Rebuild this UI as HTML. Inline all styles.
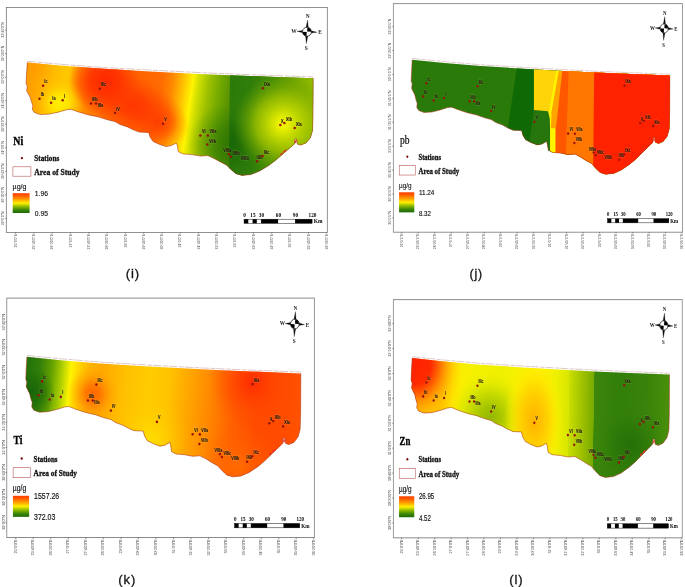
<!DOCTYPE html>
<html><head><meta charset="utf-8"><title>Heavy metals spatial distribution</title>
<style>html,body{margin:0;padding:0;background:#fff;}body{width:685px;height:587px;overflow:hidden;font-family:"Liberation Sans",sans-serif;}svg{display:block;will-change:transform;}</style>
</head><body>
<svg width="685" height="587" viewBox="0 0 685 587">
<defs>
<clipPath id="land"><polygon points="27.30,62.60 60.00,65.50 100.00,68.60 150.00,71.40 200.00,73.90 230.00,75.20 270.00,76.70 313.20,78.20 313.00,115.00 312.50,130.80 310.40,137.80 306.00,143.00 300.70,145.10 297.30,144.00 296.60,139.00 295.00,139.00 294.30,144.10 289.40,148.30 282.30,154.40 275.30,160.60 268.30,165.80 259.60,171.10 250.80,174.60 242.00,175.40 235.90,173.70 230.70,169.30 226.30,164.90 221.00,162.30 214.00,158.40 207.90,155.60 200.50,156.10 191.80,154.60 183.00,153.90 178.30,151.70 177.40,145.90 176.40,143.00 171.30,145.60 166.20,146.60 159.60,144.40 153.10,141.50 150.10,137.10 148.70,132.40 139.20,132.00 133.40,129.80 127.50,126.90 120.20,124.50 115.00,121.60 107.60,119.80 98.80,117.00 88.60,114.90 78.40,111.90 71.10,109.30 66.70,109.70 58.00,112.20 49.20,114.10 40.40,114.60 34.60,112.70 32.40,109.70 32.80,105.40 31.40,101.70 30.20,97.30 26.60,90.80 27.30,86.40 26.10,83.50 26.60,74.00"/></clipPath>
<linearGradient id="ramp" x1="0" y1="0" x2="0" y2="1"><stop offset="0" stop-color="#ff3c00"/><stop offset="0.12" stop-color="#ff5a00"/><stop offset="0.3" stop-color="#ff9a00"/><stop offset="0.5" stop-color="#fff000"/><stop offset="0.68" stop-color="#8cb800"/><stop offset="0.85" stop-color="#3a850a"/><stop offset="1" stop-color="#1c6a08"/></linearGradient>
<linearGradient id="g1base" gradientUnits="userSpaceOnUse" x1="20.00" y1="112.00" x2="320.00" y2="154.90"><stop offset="0.0229" stop-color="#ffa000"/><stop offset="0.0817" stop-color="#ffb800"/><stop offset="0.1372" stop-color="#ffc800"/><stop offset="0.1764" stop-color="#ffa800"/><stop offset="0.2221" stop-color="#ff8000"/><stop offset="0.2940" stop-color="#ff6a00"/><stop offset="0.3757" stop-color="#ff6400"/><stop offset="0.4508" stop-color="#ff6c00"/><stop offset="0.4834" stop-color="#ff8800"/><stop offset="0.5194" stop-color="#ffc000"/><stop offset="0.5504" stop-color="#fff400"/><stop offset="0.5684" stop-color="#d4e000"/><stop offset="0.6043" stop-color="#9cc000"/><stop offset="0.6468" stop-color="#6ea600"/><stop offset="0.6843" stop-color="#548f00"/><stop offset="0.7186" stop-color="#4a8800"/></linearGradient>
<radialGradient id="g1band" gradientUnits="userSpaceOnUse" cx="0.00" cy="0.00" r="1.00" gradientTransform="translate(130 103) rotate(30) scale(66 32)"><stop offset="0.0000" stop-color="#ff3600" stop-opacity="1"/><stop offset="0.3500" stop-color="#ff3e00" stop-opacity="0.95"/><stop offset="0.7000" stop-color="#ff5000" stop-opacity="0.6"/><stop offset="1.0000" stop-color="#ff6a00" stop-opacity="0"/></radialGradient>
<linearGradient id="g1right" gradientUnits="userSpaceOnUse" x1="229.50" y1="0.00" x2="313.50" y2="0.00"><stop offset="0.0000" stop-color="#2c7a0a"/><stop offset="0.2500" stop-color="#2f7d0a"/><stop offset="0.5500" stop-color="#4c9006"/><stop offset="0.8500" stop-color="#82b000"/><stop offset="1.0000" stop-color="#92bc00"/></linearGradient>
<radialGradient id="g1y" gradientUnits="userSpaceOnUse" cx="60.00" cy="103.00" r="24.00"><stop offset="0.0000" stop-color="#fff000" stop-opacity="1"/><stop offset="0.3500" stop-color="#ffe800" stop-opacity="0.9"/><stop offset="1.0000" stop-color="#ffc800" stop-opacity="0"/></radialGradient>
<radialGradient id="g1r" gradientUnits="userSpaceOnUse" cx="105.00" cy="80.00" r="36.00"><stop offset="0.0000" stop-color="#ff2800" stop-opacity="1"/><stop offset="0.4000" stop-color="#ff3000" stop-opacity="0.85"/><stop offset="0.7500" stop-color="#ff4000" stop-opacity="0.45"/><stop offset="1.0000" stop-color="#ff5000" stop-opacity="0"/></radialGradient>
<radialGradient id="g1r2" gradientUnits="userSpaceOnUse" cx="158.00" cy="122.00" r="20.00"><stop offset="0.0000" stop-color="#ff3c00" stop-opacity="0.9"/><stop offset="1.0000" stop-color="#ff4a00" stop-opacity="0"/></radialGradient>
<radialGradient id="g1o" gradientUnits="userSpaceOnUse" cx="30.00" cy="66.00" r="26.00"><stop offset="0.0000" stop-color="#ff9a00" stop-opacity="0.9"/><stop offset="1.0000" stop-color="#ffa800" stop-opacity="0"/></radialGradient>
<radialGradient id="g1d" gradientUnits="userSpaceOnUse" cx="228.00" cy="143.00" r="40.00"><stop offset="0.0000" stop-color="#176506" stop-opacity="1"/><stop offset="0.4000" stop-color="#1f6c08" stop-opacity="0.8"/><stop offset="1.0000" stop-color="#2f7d0a" stop-opacity="0"/></radialGradient>
<radialGradient id="g1x" gradientUnits="userSpaceOnUse" cx="283.00" cy="124.00" r="50.00"><stop offset="0.0000" stop-color="#f8f800" stop-opacity="1"/><stop offset="0.1000" stop-color="#eaf000" stop-opacity="1"/><stop offset="0.3000" stop-color="#c4da00" stop-opacity="0.95"/><stop offset="0.5500" stop-color="#a0c200" stop-opacity="0.8"/><stop offset="0.8000" stop-color="#78aa00" stop-opacity="0.4"/><stop offset="1.0000" stop-color="#5a9800" stop-opacity="0"/></radialGradient>
<linearGradient id="g3base" gradientUnits="userSpaceOnUse" x1="20.00" y1="89.07" x2="320.00" y2="119.07"><stop offset="0.0244" stop-color="#23730a"/><stop offset="0.0623" stop-color="#337f0a"/><stop offset="0.1036" stop-color="#62a000"/><stop offset="0.1381" stop-color="#a8cc00"/><stop offset="0.1708" stop-color="#fff400"/><stop offset="0.2001" stop-color="#ffd400"/><stop offset="0.2345" stop-color="#ffb400"/><stop offset="0.2759" stop-color="#ffa800"/><stop offset="0.3620" stop-color="#ffc000"/><stop offset="0.4481" stop-color="#ffcc00"/><stop offset="0.5101" stop-color="#ffc400"/><stop offset="0.5790" stop-color="#ffa800"/><stop offset="0.6617" stop-color="#ff8600"/><stop offset="0.7444" stop-color="#ff6000"/><stop offset="0.8271" stop-color="#ff4a00"/><stop offset="0.9304" stop-color="#ff4c00"/><stop offset="0.9890" stop-color="#ff5400"/></linearGradient>
<radialGradient id="g3r" gradientUnits="userSpaceOnUse" cx="96.28" cy="97.53" r="27.00"><stop offset="0.0000" stop-color="#ff6400" stop-opacity="1"/><stop offset="0.3000" stop-color="#ff7400" stop-opacity="0.9"/><stop offset="0.6500" stop-color="#ff9400" stop-opacity="0.5"/><stop offset="1.0000" stop-color="#ffa800" stop-opacity="0"/></radialGradient>
<radialGradient id="g3r2" gradientUnits="userSpaceOnUse" cx="262.25" cy="86.25" r="45.00"><stop offset="0.0000" stop-color="#ff2c00" stop-opacity="1"/><stop offset="0.3000" stop-color="#ff3a00" stop-opacity="0.8"/><stop offset="1.0000" stop-color="#ff5000" stop-opacity="0"/></radialGradient>
<radialGradient id="g3y" gradientUnits="userSpaceOnUse" cx="155.78" cy="140.76" r="40.00"><stop offset="0.0000" stop-color="#ffe000" stop-opacity="0.9"/><stop offset="1.0000" stop-color="#ffc800" stop-opacity="0"/></radialGradient>
<radialGradient id="g3o" gradientUnits="userSpaceOnUse" cx="249.72" cy="164.26" r="40.00"><stop offset="0.0000" stop-color="#ff7000" stop-opacity="0.8"/><stop offset="1.0000" stop-color="#ff6000" stop-opacity="0"/></radialGradient>
<radialGradient id="g3g" gradientUnits="userSpaceOnUse" cx="30.52" cy="95.65" r="26.00"><stop offset="0.0000" stop-color="#16640a" stop-opacity="1"/><stop offset="0.5000" stop-color="#1e6c08" stop-opacity="0.7"/><stop offset="1.0000" stop-color="#2c7a0a" stop-opacity="0"/></radialGradient>
<linearGradient id="g4base" gradientUnits="userSpaceOnUse" x1="20.00" y1="102.20" x2="320.00" y2="108.20"><stop offset="0.0162" stop-color="#ff6000"/><stop offset="0.1272" stop-color="#ffa800"/><stop offset="0.1717" stop-color="#ffe000"/><stop offset="0.2087" stop-color="#f8f000"/><stop offset="0.3494" stop-color="#eef000"/><stop offset="0.4975" stop-color="#fff000"/><stop offset="0.5567" stop-color="#eef000"/><stop offset="0.6041" stop-color="#d8e600"/><stop offset="0.6056" stop-color="#cade00"/><stop offset="0.6530" stop-color="#a0c200"/><stop offset="0.6966" stop-color="#78aa00"/><stop offset="0.6981" stop-color="#3c860a"/><stop offset="0.7936" stop-color="#317e0a"/><stop offset="0.9047" stop-color="#3a840a"/><stop offset="0.9788" stop-color="#4a900a"/></linearGradient>
<radialGradient id="g4r" gradientUnits="userSpaceOnUse" cx="30.41" cy="67.23" r="60.00" gradientTransform="translate(30.41 67.23) scale(1 1.12) translate(-30.41 -67.23)"><stop offset="0.0000" stop-color="#ff2200" stop-opacity="1"/><stop offset="0.3000" stop-color="#ff2a00" stop-opacity="1"/><stop offset="0.4200" stop-color="#ff5a00" stop-opacity="0.98"/><stop offset="0.5500" stop-color="#ff9400" stop-opacity="0.92"/><stop offset="0.7000" stop-color="#ffc400" stop-opacity="0.7"/><stop offset="0.8600" stop-color="#ffe600" stop-opacity="0.35"/><stop offset="1.0000" stop-color="#fff000" stop-opacity="0"/></radialGradient>
<radialGradient id="g4o" gradientUnits="userSpaceOnUse" cx="32.63" cy="114.49" r="24.00"><stop offset="0.0000" stop-color="#ff8c00" stop-opacity="0.9"/><stop offset="0.4500" stop-color="#ffa800" stop-opacity="0.6"/><stop offset="1.0000" stop-color="#ffe000" stop-opacity="0"/></radialGradient>
<radialGradient id="g4g" gradientUnits="userSpaceOnUse" cx="113.74" cy="118.27" r="46.00" gradientTransform="translate(113.74 118.27) rotate(15) scale(1 0.95) translate(-113.74 -118.27)"><stop offset="0.0000" stop-color="#94b800" stop-opacity="1"/><stop offset="0.2200" stop-color="#a2c200" stop-opacity="0.97"/><stop offset="0.5000" stop-color="#bad400" stop-opacity="0.8"/><stop offset="0.7500" stop-color="#d4e400" stop-opacity="0.45"/><stop offset="1.0000" stop-color="#f0f000" stop-opacity="0"/></radialGradient>
<radialGradient id="g4v" gradientUnits="userSpaceOnUse" cx="162.63" cy="121.11" r="33.00" gradientTransform="translate(162.63 121.11) scale(1 1.75) translate(-162.63 -121.11)"><stop offset="0.0000" stop-color="#ffb400" stop-opacity="1"/><stop offset="0.2200" stop-color="#ffc000" stop-opacity="1"/><stop offset="0.5000" stop-color="#ffd200" stop-opacity="0.92"/><stop offset="0.7800" stop-color="#ffe800" stop-opacity="0.5"/><stop offset="1.0000" stop-color="#fff000" stop-opacity="0"/></radialGradient>
<radialGradient id="g4d" gradientUnits="userSpaceOnUse" cx="269.30" cy="144.73" r="40.00"><stop offset="0.0000" stop-color="#256f08" stop-opacity="1"/><stop offset="0.4000" stop-color="#2b7608" stop-opacity="0.8"/><stop offset="1.0000" stop-color="#3a840a" stop-opacity="0"/></radialGradient>
</defs>
<g transform="matrix(1.0000 0 0 1.0000 0.000 0.000)"><g clip-path="url(#land)"><rect x="20" y="55" width="300" height="130" fill="url(#g1base)"/><rect x="20" y="55" width="209.3" height="130" fill="url(#g1o)"/><rect x="20" y="55" width="209.3" height="130" fill="url(#g1band)"/><rect x="20" y="55" width="209.3" height="130" fill="url(#g1y)"/><rect x="20" y="55" width="209.3" height="130" fill="url(#g1r)"/><rect x="20" y="55" width="209.3" height="130" fill="url(#g1r2)"/><rect x="180" y="55" width="60" height="130" fill="url(#g1d)" opacity="0.55"/><polygon points="230.2,55 320,55 320,185 228.8,185" fill="url(#g1right)"/><polygon points="230.2,55 320,55 320,185 228.8,185" fill="url(#g1d)"/><rect x="225" y="55" width="95" height="130" fill="url(#g1x)"/></g><polyline points="313.20,78.20 313.00,115.00 312.50,130.80 310.40,137.80 306.00,143.00 300.70,145.10 297.30,144.00 296.60,139.00 295.00,139.00 294.30,144.10 289.40,148.30 282.30,154.40 275.30,160.60 268.30,165.80 259.60,171.10 250.80,174.60 242.00,175.40 235.90,173.70 230.70,169.30 226.30,164.90 221.00,162.30 214.00,158.40 207.90,155.60 200.50,156.10 191.80,154.60 183.00,153.90 178.30,151.70 177.40,145.90 176.40,143.00 171.30,145.60 166.20,146.60 159.60,144.40 153.10,141.50 150.10,137.10 148.70,132.40 139.20,132.00 133.40,129.80 127.50,126.90 120.20,124.50 115.00,121.60 107.60,119.80 98.80,117.00 88.60,114.90 78.40,111.90 71.10,109.30 66.70,109.70 58.00,112.20 49.20,114.10 40.40,114.60 34.60,112.70 32.40,109.70 32.80,105.40 31.40,101.70 30.20,97.30 26.60,90.80 27.30,86.40 26.10,83.50 26.60,74.00 27.30,62.60" fill="none" stroke="#a8321c" stroke-width="0.55" stroke-linejoin="round"/><polyline points="27.30,61.30 60.00,64.20 100.00,67.30 150.00,70.10 200.00,72.60 230.00,73.90 270.00,75.40 313.20,76.90" fill="none" stroke="#bf8f8f" stroke-width="0.5" stroke-dasharray="9 1.5 5 1"/><path d="M284.0,151.8 l1.8,-1.6 M281.0,154.4 l1.2,-1.1 M295.6,142.4 l0.4,-1.6" stroke="#e82c2c" stroke-width="1.45" fill="none" stroke-linecap="round"/><rect x="6.30" y="7.40" width="321.00" height="225.10" fill="none" stroke="#6e6e6e" stroke-width="0.75"/><line x1="5.00" y1="30.00" x2="6.50" y2="30.00" stroke="#444" stroke-width="0.5"/><text transform="translate(3.90 30.00) rotate(-90) scale(0.3500)" font-family="Liberation Sans" font-size="10" font-weight="normal" text-anchor="middle" fill="#404040">32°40'0"N</text><line x1="5.00" y1="53.55" x2="6.50" y2="53.55" stroke="#444" stroke-width="0.5"/><text transform="translate(3.90 53.55) rotate(-90) scale(0.3500)" font-family="Liberation Sans" font-size="10" font-weight="normal" text-anchor="middle" fill="#404040">32°20'0"N</text><line x1="5.00" y1="77.10" x2="6.50" y2="77.10" stroke="#444" stroke-width="0.5"/><text transform="translate(3.90 77.10) rotate(-90) scale(0.3500)" font-family="Liberation Sans" font-size="10" font-weight="normal" text-anchor="middle" fill="#404040">32°0'0"N</text><line x1="5.00" y1="100.65" x2="6.50" y2="100.65" stroke="#444" stroke-width="0.5"/><text transform="translate(3.90 100.65) rotate(-90) scale(0.3500)" font-family="Liberation Sans" font-size="10" font-weight="normal" text-anchor="middle" fill="#404040">31°40'0"N</text><line x1="5.00" y1="124.20" x2="6.50" y2="124.20" stroke="#444" stroke-width="0.5"/><text transform="translate(3.90 124.20) rotate(-90) scale(0.3500)" font-family="Liberation Sans" font-size="10" font-weight="normal" text-anchor="middle" fill="#404040">31°20'0"N</text><line x1="5.00" y1="147.75" x2="6.50" y2="147.75" stroke="#444" stroke-width="0.5"/><text transform="translate(3.90 147.75) rotate(-90) scale(0.3500)" font-family="Liberation Sans" font-size="10" font-weight="normal" text-anchor="middle" fill="#404040">31°0'0"N</text><line x1="5.00" y1="171.30" x2="6.50" y2="171.30" stroke="#444" stroke-width="0.5"/><text transform="translate(3.90 171.30) rotate(-90) scale(0.3500)" font-family="Liberation Sans" font-size="10" font-weight="normal" text-anchor="middle" fill="#404040">30°40'0"N</text><line x1="5.00" y1="194.85" x2="6.50" y2="194.85" stroke="#444" stroke-width="0.5"/><text transform="translate(3.90 194.85) rotate(-90) scale(0.3500)" font-family="Liberation Sans" font-size="10" font-weight="normal" text-anchor="middle" fill="#404040">30°20'0"N</text><line x1="5.00" y1="218.40" x2="6.50" y2="218.40" stroke="#444" stroke-width="0.5"/><text transform="translate(3.90 218.40) rotate(-90) scale(0.3500)" font-family="Liberation Sans" font-size="10" font-weight="normal" text-anchor="middle" fill="#404040">30°0'0"N</text><line x1="15.60" y1="232.30" x2="15.60" y2="233.80" stroke="#444" stroke-width="0.5"/><text transform="translate(16.70 234.00) rotate(-90) scale(0.3500)" font-family="Liberation Sans" font-size="10" font-weight="normal" text-anchor="end" fill="#404040">25°0'0"E</text><line x1="33.90" y1="232.30" x2="33.90" y2="233.80" stroke="#444" stroke-width="0.5"/><text transform="translate(35.00 234.00) rotate(-90) scale(0.3500)" font-family="Liberation Sans" font-size="10" font-weight="normal" text-anchor="end" fill="#404040">25°40'0"E</text><line x1="52.20" y1="232.30" x2="52.20" y2="233.80" stroke="#444" stroke-width="0.5"/><text transform="translate(53.30 234.00) rotate(-90) scale(0.3500)" font-family="Liberation Sans" font-size="10" font-weight="normal" text-anchor="end" fill="#404040">26°20'0"E</text><line x1="70.50" y1="232.30" x2="70.50" y2="233.80" stroke="#444" stroke-width="0.5"/><text transform="translate(71.60 234.00) rotate(-90) scale(0.3500)" font-family="Liberation Sans" font-size="10" font-weight="normal" text-anchor="end" fill="#404040">27°0'0"E</text><line x1="88.80" y1="232.30" x2="88.80" y2="233.80" stroke="#444" stroke-width="0.5"/><text transform="translate(89.90 234.00) rotate(-90) scale(0.3500)" font-family="Liberation Sans" font-size="10" font-weight="normal" text-anchor="end" fill="#404040">27°40'0"E</text><line x1="107.10" y1="232.30" x2="107.10" y2="233.80" stroke="#444" stroke-width="0.5"/><text transform="translate(108.20 234.00) rotate(-90) scale(0.3500)" font-family="Liberation Sans" font-size="10" font-weight="normal" text-anchor="end" fill="#404040">28°20'0"E</text><line x1="125.40" y1="232.30" x2="125.40" y2="233.80" stroke="#444" stroke-width="0.5"/><text transform="translate(126.50 234.00) rotate(-90) scale(0.3500)" font-family="Liberation Sans" font-size="10" font-weight="normal" text-anchor="end" fill="#404040">29°0'0"E</text><line x1="143.70" y1="232.30" x2="143.70" y2="233.80" stroke="#444" stroke-width="0.5"/><text transform="translate(144.80 234.00) rotate(-90) scale(0.3500)" font-family="Liberation Sans" font-size="10" font-weight="normal" text-anchor="end" fill="#404040">29°40'0"E</text><line x1="162.00" y1="232.30" x2="162.00" y2="233.80" stroke="#444" stroke-width="0.5"/><text transform="translate(163.10 234.00) rotate(-90) scale(0.3500)" font-family="Liberation Sans" font-size="10" font-weight="normal" text-anchor="end" fill="#404040">30°20'0"E</text><line x1="180.30" y1="232.30" x2="180.30" y2="233.80" stroke="#444" stroke-width="0.5"/><text transform="translate(181.40 234.00) rotate(-90) scale(0.3500)" font-family="Liberation Sans" font-size="10" font-weight="normal" text-anchor="end" fill="#404040">31°0'0"E</text><line x1="198.60" y1="232.30" x2="198.60" y2="233.80" stroke="#444" stroke-width="0.5"/><text transform="translate(199.70 234.00) rotate(-90) scale(0.3500)" font-family="Liberation Sans" font-size="10" font-weight="normal" text-anchor="end" fill="#404040">31°40'0"E</text><line x1="216.90" y1="232.30" x2="216.90" y2="233.80" stroke="#444" stroke-width="0.5"/><text transform="translate(218.00 234.00) rotate(-90) scale(0.3500)" font-family="Liberation Sans" font-size="10" font-weight="normal" text-anchor="end" fill="#404040">32°20'0"E</text><line x1="235.20" y1="232.30" x2="235.20" y2="233.80" stroke="#444" stroke-width="0.5"/><text transform="translate(236.30 234.00) rotate(-90) scale(0.3500)" font-family="Liberation Sans" font-size="10" font-weight="normal" text-anchor="end" fill="#404040">33°0'0"E</text><line x1="253.50" y1="232.30" x2="253.50" y2="233.80" stroke="#444" stroke-width="0.5"/><text transform="translate(254.60 234.00) rotate(-90) scale(0.3500)" font-family="Liberation Sans" font-size="10" font-weight="normal" text-anchor="end" fill="#404040">33°40'0"E</text><line x1="271.80" y1="232.30" x2="271.80" y2="233.80" stroke="#444" stroke-width="0.5"/><text transform="translate(272.90 234.00) rotate(-90) scale(0.3500)" font-family="Liberation Sans" font-size="10" font-weight="normal" text-anchor="end" fill="#404040">34°20'0"E</text><line x1="290.10" y1="232.30" x2="290.10" y2="233.80" stroke="#444" stroke-width="0.5"/><text transform="translate(291.20 234.00) rotate(-90) scale(0.3500)" font-family="Liberation Sans" font-size="10" font-weight="normal" text-anchor="end" fill="#404040">35°0'0"E</text><line x1="308.40" y1="232.30" x2="308.40" y2="233.80" stroke="#444" stroke-width="0.5"/><text transform="translate(309.50 234.00) rotate(-90) scale(0.3500)" font-family="Liberation Sans" font-size="10" font-weight="normal" text-anchor="end" fill="#404040">35°40'0"E</text><line x1="326.70" y1="232.30" x2="326.70" y2="233.80" stroke="#444" stroke-width="0.5"/><text transform="translate(327.80 234.00) rotate(-90) scale(0.3500)" font-family="Liberation Sans" font-size="10" font-weight="normal" text-anchor="end" fill="#404040">36°20'0"E</text><circle cx="43.10" cy="85.70" r="1.25" fill="#961410"/><text transform="translate(44.30 83.30) scale(0.4500)" font-family="Liberation Sans" font-size="10" font-weight="bold" text-anchor="start" fill="none" stroke="#fff6a0" stroke-opacity="0.16" stroke-width="2.2" stroke-linejoin="round" textLength="7.2" lengthAdjust="spacingAndGlyphs">Ic</text><text transform="translate(44.30 83.30) scale(0.4500)" font-family="Liberation Sans" font-size="10" font-weight="bold" text-anchor="start" fill="#1c140c" stroke="#1c140c" stroke-width="0.2" textLength="7.2" lengthAdjust="spacingAndGlyphs">Ic</text><circle cx="39.50" cy="98.80" r="1.25" fill="#961410"/><text transform="translate(40.70 96.40) scale(0.4500)" font-family="Liberation Sans" font-size="10" font-weight="bold" text-anchor="start" fill="none" stroke="#fff6a0" stroke-opacity="0.16" stroke-width="2.2" stroke-linejoin="round" textLength="7.6" lengthAdjust="spacingAndGlyphs">Ib</text><text transform="translate(40.70 96.40) scale(0.4500)" font-family="Liberation Sans" font-size="10" font-weight="bold" text-anchor="start" fill="#1c140c" stroke="#1c140c" stroke-width="0.2" textLength="7.6" lengthAdjust="spacingAndGlyphs">Ib</text><circle cx="51.10" cy="102.70" r="1.25" fill="#961410"/><text transform="translate(52.30 100.30) scale(0.4500)" font-family="Liberation Sans" font-size="10" font-weight="bold" text-anchor="start" fill="none" stroke="#fff6a0" stroke-opacity="0.16" stroke-width="2.2" stroke-linejoin="round" textLength="7.2" lengthAdjust="spacingAndGlyphs">Ia</text><text transform="translate(52.30 100.30) scale(0.4500)" font-family="Liberation Sans" font-size="10" font-weight="bold" text-anchor="start" fill="#1c140c" stroke="#1c140c" stroke-width="0.2" textLength="7.2" lengthAdjust="spacingAndGlyphs">Ia</text><circle cx="62.70" cy="100.30" r="1.25" fill="#961410"/><text transform="translate(64.10 97.90) scale(0.4500)" font-family="Liberation Sans" font-size="10" font-weight="bold" text-anchor="start" fill="none" stroke="#fff6a0" stroke-opacity="0.16" stroke-width="2.2" stroke-linejoin="round" textLength="2.4" lengthAdjust="spacingAndGlyphs">I</text><text transform="translate(64.10 97.90) scale(0.4500)" font-family="Liberation Sans" font-size="10" font-weight="bold" text-anchor="start" fill="#1c140c" stroke="#1c140c" stroke-width="0.2" textLength="2.4" lengthAdjust="spacingAndGlyphs">I</text><circle cx="99.80" cy="88.70" r="1.25" fill="#961410"/><text transform="translate(101.00 86.30) scale(0.4500)" font-family="Liberation Sans" font-size="10" font-weight="bold" text-anchor="start" fill="none" stroke="#fff6a0" stroke-opacity="0.16" stroke-width="2.2" stroke-linejoin="round" textLength="12.0" lengthAdjust="spacingAndGlyphs">IIIc</text><text transform="translate(101.00 86.30) scale(0.4500)" font-family="Liberation Sans" font-size="10" font-weight="bold" text-anchor="start" fill="#1c140c" stroke="#1c140c" stroke-width="0.2" textLength="12.0" lengthAdjust="spacingAndGlyphs">IIIc</text><circle cx="91.00" cy="103.60" r="1.25" fill="#961410"/><text transform="translate(92.00 101.00) scale(0.4500)" font-family="Liberation Sans" font-size="10" font-weight="bold" text-anchor="start" fill="none" stroke="#fff6a0" stroke-opacity="0.16" stroke-width="2.2" stroke-linejoin="round" textLength="12.4" lengthAdjust="spacingAndGlyphs">IIIb</text><text transform="translate(92.00 101.00) scale(0.4500)" font-family="Liberation Sans" font-size="10" font-weight="bold" text-anchor="start" fill="#1c140c" stroke="#1c140c" stroke-width="0.2" textLength="12.4" lengthAdjust="spacingAndGlyphs">IIIb</text><circle cx="96.10" cy="103.60" r="1.25" fill="#961410"/><text transform="translate(97.70 107.00) scale(0.4500)" font-family="Liberation Sans" font-size="10" font-weight="bold" text-anchor="start" fill="none" stroke="#fff6a0" stroke-opacity="0.16" stroke-width="2.2" stroke-linejoin="round" textLength="12.0" lengthAdjust="spacingAndGlyphs">IIIa</text><text transform="translate(97.70 107.00) scale(0.4500)" font-family="Liberation Sans" font-size="10" font-weight="bold" text-anchor="start" fill="#1c140c" stroke="#1c140c" stroke-width="0.2" textLength="12.0" lengthAdjust="spacingAndGlyphs">IIIa</text><circle cx="115.00" cy="113.10" r="1.25" fill="#961410"/><text transform="translate(116.20 110.70) scale(0.4500)" font-family="Liberation Sans" font-size="10" font-weight="bold" text-anchor="start" fill="none" stroke="#fff6a0" stroke-opacity="0.16" stroke-width="2.2" stroke-linejoin="round" textLength="8.1" lengthAdjust="spacingAndGlyphs">IV</text><text transform="translate(116.20 110.70) scale(0.4500)" font-family="Liberation Sans" font-size="10" font-weight="bold" text-anchor="start" fill="#1c140c" stroke="#1c140c" stroke-width="0.2" textLength="8.1" lengthAdjust="spacingAndGlyphs">IV</text><circle cx="163.00" cy="123.80" r="1.25" fill="#961410"/><text transform="translate(164.20 121.40) scale(0.4500)" font-family="Liberation Sans" font-size="10" font-weight="bold" text-anchor="start" fill="none" stroke="#fff6a0" stroke-opacity="0.16" stroke-width="2.2" stroke-linejoin="round" textLength="5.7" lengthAdjust="spacingAndGlyphs">V</text><text transform="translate(164.20 121.40) scale(0.4500)" font-family="Liberation Sans" font-size="10" font-weight="bold" text-anchor="start" fill="#1c140c" stroke="#1c140c" stroke-width="0.2" textLength="5.7" lengthAdjust="spacingAndGlyphs">V</text><circle cx="200.30" cy="135.40" r="1.25" fill="#961410"/><text transform="translate(201.90 133.00) scale(0.4500)" font-family="Liberation Sans" font-size="10" font-weight="bold" text-anchor="start" fill="none" stroke="#fff6a0" stroke-opacity="0.16" stroke-width="2.2" stroke-linejoin="round" textLength="8.1" lengthAdjust="spacingAndGlyphs">VI</text><text transform="translate(201.90 133.00) scale(0.4500)" font-family="Liberation Sans" font-size="10" font-weight="bold" text-anchor="start" fill="#1c140c" stroke="#1c140c" stroke-width="0.2" textLength="8.1" lengthAdjust="spacingAndGlyphs">VI</text><circle cx="207.80" cy="135.50" r="1.25" fill="#961410"/><text transform="translate(209.40 133.10) scale(0.4500)" font-family="Liberation Sans" font-size="10" font-weight="bold" text-anchor="start" fill="none" stroke="#fff6a0" stroke-opacity="0.16" stroke-width="2.2" stroke-linejoin="round" textLength="15.3" lengthAdjust="spacingAndGlyphs">VIIa</text><text transform="translate(209.40 133.10) scale(0.4500)" font-family="Liberation Sans" font-size="10" font-weight="bold" text-anchor="start" fill="#1c140c" stroke="#1c140c" stroke-width="0.2" textLength="15.3" lengthAdjust="spacingAndGlyphs">VIIa</text><circle cx="207.30" cy="144.60" r="1.25" fill="#961410"/><text transform="translate(208.90 142.60) scale(0.4500)" font-family="Liberation Sans" font-size="10" font-weight="bold" text-anchor="start" fill="none" stroke="#fff6a0" stroke-opacity="0.16" stroke-width="2.2" stroke-linejoin="round" textLength="15.8" lengthAdjust="spacingAndGlyphs">VIIb</text><text transform="translate(208.90 142.60) scale(0.4500)" font-family="Liberation Sans" font-size="10" font-weight="bold" text-anchor="start" fill="#1c140c" stroke="#1c140c" stroke-width="0.2" textLength="15.8" lengthAdjust="spacingAndGlyphs">VIIb</text><circle cx="228.70" cy="154.00" r="1.25" fill="#961410"/><text transform="translate(223.20 152.20) scale(0.4500)" font-family="Liberation Sans" font-size="10" font-weight="bold" text-anchor="start" fill="none" stroke="#fff6a0" stroke-opacity="0.16" stroke-width="2.2" stroke-linejoin="round" textLength="17.7" lengthAdjust="spacingAndGlyphs">VIIIa</text><text transform="translate(223.20 152.20) scale(0.4500)" font-family="Liberation Sans" font-size="10" font-weight="bold" text-anchor="start" fill="#1c140c" stroke="#1c140c" stroke-width="0.2" textLength="17.7" lengthAdjust="spacingAndGlyphs">VIIIa</text><circle cx="230.80" cy="156.80" r="1.25" fill="#961410"/><text transform="translate(232.40 155.00) scale(0.4500)" font-family="Liberation Sans" font-size="10" font-weight="bold" text-anchor="start" fill="none" stroke="#fff6a0" stroke-opacity="0.16" stroke-width="2.2" stroke-linejoin="round" textLength="17.7" lengthAdjust="spacingAndGlyphs">VIIIc</text><text transform="translate(232.40 155.00) scale(0.4500)" font-family="Liberation Sans" font-size="10" font-weight="bold" text-anchor="start" fill="#1c140c" stroke="#1c140c" stroke-width="0.2" textLength="17.7" lengthAdjust="spacingAndGlyphs">VIIIc</text><text transform="translate(240.60 160.00) scale(0.4500)" font-family="Liberation Sans" font-size="10" font-weight="bold" text-anchor="start" fill="none" stroke="#fff6a0" stroke-opacity="0.16" stroke-width="2.2" stroke-linejoin="round" textLength="18.2" lengthAdjust="spacingAndGlyphs">VIIIb</text><text transform="translate(240.60 160.00) scale(0.4500)" font-family="Liberation Sans" font-size="10" font-weight="bold" text-anchor="start" fill="#1c140c" stroke="#1c140c" stroke-width="0.2" textLength="18.2" lengthAdjust="spacingAndGlyphs">VIIIb</text><circle cx="257.10" cy="161.20" r="1.25" fill="#961410"/><text transform="translate(256.60 158.80) scale(0.4500)" font-family="Liberation Sans" font-size="10" font-weight="bold" text-anchor="start" fill="none" stroke="#fff6a0" stroke-opacity="0.16" stroke-width="2.2" stroke-linejoin="round" textLength="13.4" lengthAdjust="spacingAndGlyphs">IXb</text><text transform="translate(256.60 158.80) scale(0.4500)" font-family="Liberation Sans" font-size="10" font-weight="bold" text-anchor="start" fill="#1c140c" stroke="#1c140c" stroke-width="0.2" textLength="13.4" lengthAdjust="spacingAndGlyphs">IXb</text><circle cx="262.50" cy="156.00" r="1.25" fill="#961410"/><text transform="translate(263.70 153.60) scale(0.4500)" font-family="Liberation Sans" font-size="10" font-weight="bold" text-anchor="start" fill="none" stroke="#fff6a0" stroke-opacity="0.16" stroke-width="2.2" stroke-linejoin="round" textLength="12.9" lengthAdjust="spacingAndGlyphs">IXc</text><text transform="translate(263.70 153.60) scale(0.4500)" font-family="Liberation Sans" font-size="10" font-weight="bold" text-anchor="start" fill="#1c140c" stroke="#1c140c" stroke-width="0.2" textLength="12.9" lengthAdjust="spacingAndGlyphs">IXc</text><circle cx="262.90" cy="88.30" r="1.25" fill="#961410"/><text transform="translate(264.10 85.90) scale(0.4500)" font-family="Liberation Sans" font-size="10" font-weight="bold" text-anchor="start" fill="none" stroke="#fff6a0" stroke-opacity="0.16" stroke-width="2.2" stroke-linejoin="round" textLength="12.9" lengthAdjust="spacingAndGlyphs">IXa</text><text transform="translate(264.10 85.90) scale(0.4500)" font-family="Liberation Sans" font-size="10" font-weight="bold" text-anchor="start" fill="#1c140c" stroke="#1c140c" stroke-width="0.2" textLength="12.9" lengthAdjust="spacingAndGlyphs">IXa</text><circle cx="280.30" cy="125.00" r="1.25" fill="#961410"/><text transform="translate(281.10 122.80) scale(0.4500)" font-family="Liberation Sans" font-size="10" font-weight="bold" text-anchor="start" fill="none" stroke="#fff6a0" stroke-opacity="0.16" stroke-width="2.2" stroke-linejoin="round" textLength="5.7" lengthAdjust="spacingAndGlyphs">X</text><text transform="translate(281.10 122.80) scale(0.4500)" font-family="Liberation Sans" font-size="10" font-weight="bold" text-anchor="start" fill="#1c140c" stroke="#1c140c" stroke-width="0.2" textLength="5.7" lengthAdjust="spacingAndGlyphs">X</text><circle cx="284.40" cy="122.90" r="1.25" fill="#961410"/><text transform="translate(286.00 120.90) scale(0.4500)" font-family="Liberation Sans" font-size="10" font-weight="bold" text-anchor="start" fill="none" stroke="#fff6a0" stroke-opacity="0.16" stroke-width="2.2" stroke-linejoin="round" textLength="13.4" lengthAdjust="spacingAndGlyphs">XIb</text><text transform="translate(286.00 120.90) scale(0.4500)" font-family="Liberation Sans" font-size="10" font-weight="bold" text-anchor="start" fill="#1c140c" stroke="#1c140c" stroke-width="0.2" textLength="13.4" lengthAdjust="spacingAndGlyphs">XIb</text><circle cx="294.70" cy="128.00" r="1.25" fill="#961410"/><text transform="translate(295.90 125.60) scale(0.4500)" font-family="Liberation Sans" font-size="10" font-weight="bold" text-anchor="start" fill="none" stroke="#fff6a0" stroke-opacity="0.16" stroke-width="2.2" stroke-linejoin="round" textLength="12.9" lengthAdjust="spacingAndGlyphs">XIa</text><text transform="translate(295.90 125.60) scale(0.4500)" font-family="Liberation Sans" font-size="10" font-weight="bold" text-anchor="start" fill="#1c140c" stroke="#1c140c" stroke-width="0.2" textLength="12.9" lengthAdjust="spacingAndGlyphs">XIa</text><text x="13.3" y="144.9" font-family="Liberation Serif" font-weight="bold" font-size="11.6" fill="#000" stroke="#000" stroke-width="0.35" textLength="9.9" lengthAdjust="spacingAndGlyphs">Ni</text><circle cx="21.9" cy="158.2" r="1.15" fill="#7a0a05"/><text x="34.3" y="161.2" font-family="Liberation Serif" font-weight="bold" font-size="7.6" fill="#111" stroke="#111" stroke-width="0.28" textLength="25.0" lengthAdjust="spacingAndGlyphs">Stations</text><rect x="12.9" y="166.8" width="18.0" height="9.4" fill="#fff" stroke="#b85858" stroke-width="0.6"/><text x="34.3" y="175.0" font-family="Liberation Serif" font-weight="bold" font-size="7.6" fill="#111" stroke="#111" stroke-width="0.28" textLength="45.2" lengthAdjust="spacingAndGlyphs">Area of Study</text><text x="12.6" y="189.0" font-family="Liberation Sans" font-size="8.0" fill="#111" stroke="#111" stroke-width="0.15" textLength="13.9" lengthAdjust="spacingAndGlyphs">µg/g</text><rect x="12.7" y="193.2" width="16.9" height="19.8" fill="url(#ramp)"/><text x="34.8" y="196.0" font-family="Liberation Sans" font-size="7.8" fill="#111" stroke="#111" stroke-width="0.15" textLength="13.2" lengthAdjust="spacingAndGlyphs">1.96</text><text x="34.8" y="216.2" font-family="Liberation Sans" font-size="7.8" fill="#111" stroke="#111" stroke-width="0.15" textLength="13.2" lengthAdjust="spacingAndGlyphs">0.95</text><rect x="244.05" y="219.20" width="68.05" height="4.10" fill="#fff" stroke="#000" stroke-width="0.45"/><rect x="244.05" y="219.20" width="4.25" height="4.10" fill="#000"/><rect x="252.56" y="219.20" width="4.25" height="4.10" fill="#000"/><rect x="261.06" y="219.20" width="17.01" height="4.10" fill="#000"/><rect x="295.09" y="219.20" width="17.01" height="4.10" fill="#000"/><text transform="translate(244.65 216.90) scale(0.5250)" font-family="Liberation Serif" font-size="10" font-weight="bold" text-anchor="middle" fill="#000">0</text><text transform="translate(252.96 216.90) scale(0.5250)" font-family="Liberation Serif" font-size="10" font-weight="bold" text-anchor="middle" fill="#000">15</text><text transform="translate(261.46 216.90) scale(0.5250)" font-family="Liberation Serif" font-size="10" font-weight="bold" text-anchor="middle" fill="#000">30</text><text transform="translate(278.47 216.90) scale(0.5250)" font-family="Liberation Serif" font-size="10" font-weight="bold" text-anchor="middle" fill="#000">60</text><text transform="translate(295.49 216.90) scale(0.5250)" font-family="Liberation Serif" font-size="10" font-weight="bold" text-anchor="middle" fill="#000">90</text><text transform="translate(312.50 216.90) scale(0.5250)" font-family="Liberation Serif" font-size="10" font-weight="bold" text-anchor="middle" fill="#000">120</text><text transform="translate(313.70 223.40) scale(0.5400)" font-family="Liberation Serif" font-size="10" font-weight="bold" text-anchor="start" fill="#000">Km</text><g transform="translate(306.95 31.75) rotate(3)"><path d="M0,-11.7 L1.15,-4.2 L-1.15,-4.2 Z M0,11.9 L1.15,4.2 L-1.15,4.2 Z M-10.1,0 L-4.2,-1.15 L-4.2,1.15 Z M10.1,0 L4.2,-1.15 L4.2,1.15 Z" fill="#0a0a0a" stroke="#0a0a0a" stroke-width="0.25" stroke-linejoin="round"/><circle cx="0" cy="0" r="4.5" fill="#fff" stroke="#0a0a0a" stroke-width="0.7"/><path d="M0.2,-0.2 L0.2,-4.2 A4.0,4.0 0 0 1 4.2,-0.2 Z M-0.2,0.2 L-0.2,4.2 A4.0,4.0 0 0 1 -4.2,0.2 Z" fill="#000"/></g><text transform="translate(307.60 18.30) scale(0.5400)" font-family="Liberation Serif" font-size="10" font-weight="bold" text-anchor="middle" fill="#222">N</text><text transform="translate(306.30 49.70) scale(0.5400)" font-family="Liberation Serif" font-size="10" font-weight="bold" text-anchor="middle" fill="#222">S</text><text transform="translate(293.90 33.00) scale(0.5500)" font-family="Liberation Serif" font-size="10" font-weight="bold" text-anchor="middle" fill="#222">W</text><text transform="translate(320.00 34.40) scale(0.5300)" font-family="Liberation Serif" font-size="10" font-weight="bold" text-anchor="middle" fill="#222">E</text></g>
<g transform="matrix(0.9010 0 0 1.0150 387.624 -3.811)"><g clip-path="url(#land)"><rect x="20" y="55" width="300" height="130" fill="#2a7a09"/><polygon points="144.70,62.87 132.27,136.76 132.27,190.95 346.70,190.95 346.70,62.87" fill="#0f6905"/><polygon points="162.35,111.93 178.55,113.11 181.33,120.80 181.88,159.42 154.91,159.42" fill="#27760d"/><polygon points="162.35,57.94 162.35,112.03 177.89,113.31 180.11,120.80 180.88,190.95 346.70,190.95 346.70,57.94" fill="#ffd50a"/><polygon points="189.21,57.94 187.10,73.71 179.22,113.71 180.11,120.80 180.88,190.95 346.70,190.95 346.70,57.94" fill="#fff400"/><polygon points="191.98,57.94 189.87,73.90 181.88,114.10 181.33,130.06 186.43,130.06 186.43,190.95 346.70,190.95 346.70,57.94" fill="#ffa300"/><polygon points="195.87,57.94 193.76,74.10 186.88,130.06 186.43,130.06 186.43,190.95 346.70,190.95 346.70,57.94" fill="#ff5600"/><polygon points="201.42,57.94 196.53,190.95 346.70,190.95 346.70,57.94" fill="#ff7600"/><polygon points="229.50,57.94 227.83,190.95 346.70,190.95 346.70,57.94" fill="#ff2200"/></g><polyline points="313.20,78.20 313.00,115.00 312.50,130.80 310.40,137.80 306.00,143.00 300.70,145.10 297.30,144.00 296.60,139.00 295.00,139.00 294.30,144.10 289.40,148.30 282.30,154.40 275.30,160.60 268.30,165.80 259.60,171.10 250.80,174.60 242.00,175.40 235.90,173.70 230.70,169.30 226.30,164.90 221.00,162.30 214.00,158.40 207.90,155.60 200.50,156.10 191.80,154.60 183.00,153.90 178.30,151.70 177.40,145.90 176.40,143.00 171.30,145.60 166.20,146.60 159.60,144.40 153.10,141.50 150.10,137.10 148.70,132.40 139.20,132.00 133.40,129.80 127.50,126.90 120.20,124.50 115.00,121.60 107.60,119.80 98.80,117.00 88.60,114.90 78.40,111.90 71.10,109.30 66.70,109.70 58.00,112.20 49.20,114.10 40.40,114.60 34.60,112.70 32.40,109.70 32.80,105.40 31.40,101.70 30.20,97.30 26.60,90.80 27.30,86.40 26.10,83.50 26.60,74.00 27.30,62.60" fill="none" stroke="#a8321c" stroke-width="0.55" stroke-linejoin="round"/><polyline points="27.30,61.30 60.00,64.20 100.00,67.30 150.00,70.10 200.00,72.60 230.00,73.90 270.00,75.40 313.20,76.90" fill="none" stroke="#bf8f8f" stroke-width="0.5" stroke-dasharray="9 1.5 5 1"/><path d="M284.0,151.8 l1.8,-1.6 M281.0,154.4 l1.2,-1.1 M295.6,142.4 l0.4,-1.6" stroke="#e82c2c" stroke-width="1.45" fill="none" stroke-linecap="round"/><rect x="6.30" y="7.40" width="321.00" height="225.10" fill="none" stroke="#6e6e6e" stroke-width="0.75"/><line x1="5.00" y1="30.00" x2="6.50" y2="30.00" stroke="#444" stroke-width="0.5"/><text transform="translate(3.90 30.00) rotate(-90) scale(0.3500)" font-family="Liberation Sans" font-size="10" font-weight="normal" text-anchor="middle" fill="#404040">32°40'0"N</text><line x1="5.00" y1="53.55" x2="6.50" y2="53.55" stroke="#444" stroke-width="0.5"/><text transform="translate(3.90 53.55) rotate(-90) scale(0.3500)" font-family="Liberation Sans" font-size="10" font-weight="normal" text-anchor="middle" fill="#404040">32°20'0"N</text><line x1="5.00" y1="77.10" x2="6.50" y2="77.10" stroke="#444" stroke-width="0.5"/><text transform="translate(3.90 77.10) rotate(-90) scale(0.3500)" font-family="Liberation Sans" font-size="10" font-weight="normal" text-anchor="middle" fill="#404040">32°0'0"N</text><line x1="5.00" y1="100.65" x2="6.50" y2="100.65" stroke="#444" stroke-width="0.5"/><text transform="translate(3.90 100.65) rotate(-90) scale(0.3500)" font-family="Liberation Sans" font-size="10" font-weight="normal" text-anchor="middle" fill="#404040">31°40'0"N</text><line x1="5.00" y1="124.20" x2="6.50" y2="124.20" stroke="#444" stroke-width="0.5"/><text transform="translate(3.90 124.20) rotate(-90) scale(0.3500)" font-family="Liberation Sans" font-size="10" font-weight="normal" text-anchor="middle" fill="#404040">31°20'0"N</text><line x1="5.00" y1="147.75" x2="6.50" y2="147.75" stroke="#444" stroke-width="0.5"/><text transform="translate(3.90 147.75) rotate(-90) scale(0.3500)" font-family="Liberation Sans" font-size="10" font-weight="normal" text-anchor="middle" fill="#404040">31°0'0"N</text><line x1="5.00" y1="171.30" x2="6.50" y2="171.30" stroke="#444" stroke-width="0.5"/><text transform="translate(3.90 171.30) rotate(-90) scale(0.3500)" font-family="Liberation Sans" font-size="10" font-weight="normal" text-anchor="middle" fill="#404040">30°40'0"N</text><line x1="5.00" y1="194.85" x2="6.50" y2="194.85" stroke="#444" stroke-width="0.5"/><text transform="translate(3.90 194.85) rotate(-90) scale(0.3500)" font-family="Liberation Sans" font-size="10" font-weight="normal" text-anchor="middle" fill="#404040">30°20'0"N</text><line x1="5.00" y1="218.40" x2="6.50" y2="218.40" stroke="#444" stroke-width="0.5"/><text transform="translate(3.90 218.40) rotate(-90) scale(0.3500)" font-family="Liberation Sans" font-size="10" font-weight="normal" text-anchor="middle" fill="#404040">30°0'0"N</text><line x1="15.60" y1="232.30" x2="15.60" y2="233.80" stroke="#444" stroke-width="0.5"/><text transform="translate(16.70 234.00) rotate(-90) scale(0.3500)" font-family="Liberation Sans" font-size="10" font-weight="normal" text-anchor="end" fill="#404040">25°0'0"E</text><line x1="33.90" y1="232.30" x2="33.90" y2="233.80" stroke="#444" stroke-width="0.5"/><text transform="translate(35.00 234.00) rotate(-90) scale(0.3500)" font-family="Liberation Sans" font-size="10" font-weight="normal" text-anchor="end" fill="#404040">25°40'0"E</text><line x1="52.20" y1="232.30" x2="52.20" y2="233.80" stroke="#444" stroke-width="0.5"/><text transform="translate(53.30 234.00) rotate(-90) scale(0.3500)" font-family="Liberation Sans" font-size="10" font-weight="normal" text-anchor="end" fill="#404040">26°20'0"E</text><line x1="70.50" y1="232.30" x2="70.50" y2="233.80" stroke="#444" stroke-width="0.5"/><text transform="translate(71.60 234.00) rotate(-90) scale(0.3500)" font-family="Liberation Sans" font-size="10" font-weight="normal" text-anchor="end" fill="#404040">27°0'0"E</text><line x1="88.80" y1="232.30" x2="88.80" y2="233.80" stroke="#444" stroke-width="0.5"/><text transform="translate(89.90 234.00) rotate(-90) scale(0.3500)" font-family="Liberation Sans" font-size="10" font-weight="normal" text-anchor="end" fill="#404040">27°40'0"E</text><line x1="107.10" y1="232.30" x2="107.10" y2="233.80" stroke="#444" stroke-width="0.5"/><text transform="translate(108.20 234.00) rotate(-90) scale(0.3500)" font-family="Liberation Sans" font-size="10" font-weight="normal" text-anchor="end" fill="#404040">28°20'0"E</text><line x1="125.40" y1="232.30" x2="125.40" y2="233.80" stroke="#444" stroke-width="0.5"/><text transform="translate(126.50 234.00) rotate(-90) scale(0.3500)" font-family="Liberation Sans" font-size="10" font-weight="normal" text-anchor="end" fill="#404040">29°0'0"E</text><line x1="143.70" y1="232.30" x2="143.70" y2="233.80" stroke="#444" stroke-width="0.5"/><text transform="translate(144.80 234.00) rotate(-90) scale(0.3500)" font-family="Liberation Sans" font-size="10" font-weight="normal" text-anchor="end" fill="#404040">29°40'0"E</text><line x1="162.00" y1="232.30" x2="162.00" y2="233.80" stroke="#444" stroke-width="0.5"/><text transform="translate(163.10 234.00) rotate(-90) scale(0.3500)" font-family="Liberation Sans" font-size="10" font-weight="normal" text-anchor="end" fill="#404040">30°20'0"E</text><line x1="180.30" y1="232.30" x2="180.30" y2="233.80" stroke="#444" stroke-width="0.5"/><text transform="translate(181.40 234.00) rotate(-90) scale(0.3500)" font-family="Liberation Sans" font-size="10" font-weight="normal" text-anchor="end" fill="#404040">31°0'0"E</text><line x1="198.60" y1="232.30" x2="198.60" y2="233.80" stroke="#444" stroke-width="0.5"/><text transform="translate(199.70 234.00) rotate(-90) scale(0.3500)" font-family="Liberation Sans" font-size="10" font-weight="normal" text-anchor="end" fill="#404040">31°40'0"E</text><line x1="216.90" y1="232.30" x2="216.90" y2="233.80" stroke="#444" stroke-width="0.5"/><text transform="translate(218.00 234.00) rotate(-90) scale(0.3500)" font-family="Liberation Sans" font-size="10" font-weight="normal" text-anchor="end" fill="#404040">32°20'0"E</text><line x1="235.20" y1="232.30" x2="235.20" y2="233.80" stroke="#444" stroke-width="0.5"/><text transform="translate(236.30 234.00) rotate(-90) scale(0.3500)" font-family="Liberation Sans" font-size="10" font-weight="normal" text-anchor="end" fill="#404040">33°0'0"E</text><line x1="253.50" y1="232.30" x2="253.50" y2="233.80" stroke="#444" stroke-width="0.5"/><text transform="translate(254.60 234.00) rotate(-90) scale(0.3500)" font-family="Liberation Sans" font-size="10" font-weight="normal" text-anchor="end" fill="#404040">33°40'0"E</text><line x1="271.80" y1="232.30" x2="271.80" y2="233.80" stroke="#444" stroke-width="0.5"/><text transform="translate(272.90 234.00) rotate(-90) scale(0.3500)" font-family="Liberation Sans" font-size="10" font-weight="normal" text-anchor="end" fill="#404040">34°20'0"E</text><line x1="290.10" y1="232.30" x2="290.10" y2="233.80" stroke="#444" stroke-width="0.5"/><text transform="translate(291.20 234.00) rotate(-90) scale(0.3500)" font-family="Liberation Sans" font-size="10" font-weight="normal" text-anchor="end" fill="#404040">35°0'0"E</text><line x1="308.40" y1="232.30" x2="308.40" y2="233.80" stroke="#444" stroke-width="0.5"/><text transform="translate(309.50 234.00) rotate(-90) scale(0.3500)" font-family="Liberation Sans" font-size="10" font-weight="normal" text-anchor="end" fill="#404040">35°40'0"E</text><line x1="326.70" y1="232.30" x2="326.70" y2="233.80" stroke="#444" stroke-width="0.5"/><text transform="translate(327.80 234.00) rotate(-90) scale(0.3500)" font-family="Liberation Sans" font-size="10" font-weight="normal" text-anchor="end" fill="#404040">36°20'0"E</text><circle cx="43.10" cy="85.70" r="1.25" fill="#961410"/><text transform="translate(44.30 83.30) scale(0.4500)" font-family="Liberation Sans" font-size="10" font-weight="bold" text-anchor="start" fill="none" stroke="#fff6a0" stroke-opacity="0.16" stroke-width="2.2" stroke-linejoin="round" textLength="7.2" lengthAdjust="spacingAndGlyphs">Ic</text><text transform="translate(44.30 83.30) scale(0.4500)" font-family="Liberation Sans" font-size="10" font-weight="bold" text-anchor="start" fill="#1c140c" stroke="#1c140c" stroke-width="0.2" textLength="7.2" lengthAdjust="spacingAndGlyphs">Ic</text><circle cx="39.50" cy="98.80" r="1.25" fill="#961410"/><text transform="translate(40.70 96.40) scale(0.4500)" font-family="Liberation Sans" font-size="10" font-weight="bold" text-anchor="start" fill="none" stroke="#fff6a0" stroke-opacity="0.16" stroke-width="2.2" stroke-linejoin="round" textLength="7.6" lengthAdjust="spacingAndGlyphs">Ib</text><text transform="translate(40.70 96.40) scale(0.4500)" font-family="Liberation Sans" font-size="10" font-weight="bold" text-anchor="start" fill="#1c140c" stroke="#1c140c" stroke-width="0.2" textLength="7.6" lengthAdjust="spacingAndGlyphs">Ib</text><circle cx="51.10" cy="102.70" r="1.25" fill="#961410"/><text transform="translate(52.30 100.30) scale(0.4500)" font-family="Liberation Sans" font-size="10" font-weight="bold" text-anchor="start" fill="none" stroke="#fff6a0" stroke-opacity="0.16" stroke-width="2.2" stroke-linejoin="round" textLength="7.2" lengthAdjust="spacingAndGlyphs">Ia</text><text transform="translate(52.30 100.30) scale(0.4500)" font-family="Liberation Sans" font-size="10" font-weight="bold" text-anchor="start" fill="#1c140c" stroke="#1c140c" stroke-width="0.2" textLength="7.2" lengthAdjust="spacingAndGlyphs">Ia</text><circle cx="62.70" cy="100.30" r="1.25" fill="#961410"/><text transform="translate(64.10 97.90) scale(0.4500)" font-family="Liberation Sans" font-size="10" font-weight="bold" text-anchor="start" fill="none" stroke="#fff6a0" stroke-opacity="0.16" stroke-width="2.2" stroke-linejoin="round" textLength="2.4" lengthAdjust="spacingAndGlyphs">I</text><text transform="translate(64.10 97.90) scale(0.4500)" font-family="Liberation Sans" font-size="10" font-weight="bold" text-anchor="start" fill="#1c140c" stroke="#1c140c" stroke-width="0.2" textLength="2.4" lengthAdjust="spacingAndGlyphs">I</text><circle cx="99.80" cy="88.70" r="1.25" fill="#961410"/><text transform="translate(101.00 86.30) scale(0.4500)" font-family="Liberation Sans" font-size="10" font-weight="bold" text-anchor="start" fill="none" stroke="#fff6a0" stroke-opacity="0.16" stroke-width="2.2" stroke-linejoin="round" textLength="12.0" lengthAdjust="spacingAndGlyphs">IIIc</text><text transform="translate(101.00 86.30) scale(0.4500)" font-family="Liberation Sans" font-size="10" font-weight="bold" text-anchor="start" fill="#1c140c" stroke="#1c140c" stroke-width="0.2" textLength="12.0" lengthAdjust="spacingAndGlyphs">IIIc</text><circle cx="91.00" cy="103.60" r="1.25" fill="#961410"/><text transform="translate(92.00 101.00) scale(0.4500)" font-family="Liberation Sans" font-size="10" font-weight="bold" text-anchor="start" fill="none" stroke="#fff6a0" stroke-opacity="0.16" stroke-width="2.2" stroke-linejoin="round" textLength="12.4" lengthAdjust="spacingAndGlyphs">IIIb</text><text transform="translate(92.00 101.00) scale(0.4500)" font-family="Liberation Sans" font-size="10" font-weight="bold" text-anchor="start" fill="#1c140c" stroke="#1c140c" stroke-width="0.2" textLength="12.4" lengthAdjust="spacingAndGlyphs">IIIb</text><circle cx="96.10" cy="103.60" r="1.25" fill="#961410"/><text transform="translate(97.70 107.00) scale(0.4500)" font-family="Liberation Sans" font-size="10" font-weight="bold" text-anchor="start" fill="none" stroke="#fff6a0" stroke-opacity="0.16" stroke-width="2.2" stroke-linejoin="round" textLength="12.0" lengthAdjust="spacingAndGlyphs">IIIa</text><text transform="translate(97.70 107.00) scale(0.4500)" font-family="Liberation Sans" font-size="10" font-weight="bold" text-anchor="start" fill="#1c140c" stroke="#1c140c" stroke-width="0.2" textLength="12.0" lengthAdjust="spacingAndGlyphs">IIIa</text><circle cx="115.00" cy="113.10" r="1.25" fill="#961410"/><text transform="translate(116.20 110.70) scale(0.4500)" font-family="Liberation Sans" font-size="10" font-weight="bold" text-anchor="start" fill="none" stroke="#fff6a0" stroke-opacity="0.16" stroke-width="2.2" stroke-linejoin="round" textLength="8.1" lengthAdjust="spacingAndGlyphs">IV</text><text transform="translate(116.20 110.70) scale(0.4500)" font-family="Liberation Sans" font-size="10" font-weight="bold" text-anchor="start" fill="#1c140c" stroke="#1c140c" stroke-width="0.2" textLength="8.1" lengthAdjust="spacingAndGlyphs">IV</text><circle cx="163.00" cy="123.80" r="1.25" fill="#961410"/><text transform="translate(164.20 121.40) scale(0.4500)" font-family="Liberation Sans" font-size="10" font-weight="bold" text-anchor="start" fill="none" stroke="#fff6a0" stroke-opacity="0.16" stroke-width="2.2" stroke-linejoin="round" textLength="5.7" lengthAdjust="spacingAndGlyphs">V</text><text transform="translate(164.20 121.40) scale(0.4500)" font-family="Liberation Sans" font-size="10" font-weight="bold" text-anchor="start" fill="#1c140c" stroke="#1c140c" stroke-width="0.2" textLength="5.7" lengthAdjust="spacingAndGlyphs">V</text><circle cx="200.30" cy="135.40" r="1.25" fill="#961410"/><text transform="translate(201.90 133.00) scale(0.4500)" font-family="Liberation Sans" font-size="10" font-weight="bold" text-anchor="start" fill="none" stroke="#fff6a0" stroke-opacity="0.16" stroke-width="2.2" stroke-linejoin="round" textLength="8.1" lengthAdjust="spacingAndGlyphs">VI</text><text transform="translate(201.90 133.00) scale(0.4500)" font-family="Liberation Sans" font-size="10" font-weight="bold" text-anchor="start" fill="#1c140c" stroke="#1c140c" stroke-width="0.2" textLength="8.1" lengthAdjust="spacingAndGlyphs">VI</text><circle cx="207.80" cy="135.50" r="1.25" fill="#961410"/><text transform="translate(209.40 133.10) scale(0.4500)" font-family="Liberation Sans" font-size="10" font-weight="bold" text-anchor="start" fill="none" stroke="#fff6a0" stroke-opacity="0.16" stroke-width="2.2" stroke-linejoin="round" textLength="15.3" lengthAdjust="spacingAndGlyphs">VIIa</text><text transform="translate(209.40 133.10) scale(0.4500)" font-family="Liberation Sans" font-size="10" font-weight="bold" text-anchor="start" fill="#1c140c" stroke="#1c140c" stroke-width="0.2" textLength="15.3" lengthAdjust="spacingAndGlyphs">VIIa</text><circle cx="207.30" cy="144.60" r="1.25" fill="#961410"/><text transform="translate(208.90 142.60) scale(0.4500)" font-family="Liberation Sans" font-size="10" font-weight="bold" text-anchor="start" fill="none" stroke="#fff6a0" stroke-opacity="0.16" stroke-width="2.2" stroke-linejoin="round" textLength="15.8" lengthAdjust="spacingAndGlyphs">VIIb</text><text transform="translate(208.90 142.60) scale(0.4500)" font-family="Liberation Sans" font-size="10" font-weight="bold" text-anchor="start" fill="#1c140c" stroke="#1c140c" stroke-width="0.2" textLength="15.8" lengthAdjust="spacingAndGlyphs">VIIb</text><circle cx="228.70" cy="154.00" r="1.25" fill="#961410"/><text transform="translate(223.20 152.20) scale(0.4500)" font-family="Liberation Sans" font-size="10" font-weight="bold" text-anchor="start" fill="none" stroke="#fff6a0" stroke-opacity="0.16" stroke-width="2.2" stroke-linejoin="round" textLength="17.7" lengthAdjust="spacingAndGlyphs">VIIIa</text><text transform="translate(223.20 152.20) scale(0.4500)" font-family="Liberation Sans" font-size="10" font-weight="bold" text-anchor="start" fill="#1c140c" stroke="#1c140c" stroke-width="0.2" textLength="17.7" lengthAdjust="spacingAndGlyphs">VIIIa</text><circle cx="230.80" cy="156.80" r="1.25" fill="#961410"/><text transform="translate(232.40 155.00) scale(0.4500)" font-family="Liberation Sans" font-size="10" font-weight="bold" text-anchor="start" fill="none" stroke="#fff6a0" stroke-opacity="0.16" stroke-width="2.2" stroke-linejoin="round" textLength="17.7" lengthAdjust="spacingAndGlyphs">VIIIc</text><text transform="translate(232.40 155.00) scale(0.4500)" font-family="Liberation Sans" font-size="10" font-weight="bold" text-anchor="start" fill="#1c140c" stroke="#1c140c" stroke-width="0.2" textLength="17.7" lengthAdjust="spacingAndGlyphs">VIIIc</text><text transform="translate(240.60 160.00) scale(0.4500)" font-family="Liberation Sans" font-size="10" font-weight="bold" text-anchor="start" fill="none" stroke="#fff6a0" stroke-opacity="0.16" stroke-width="2.2" stroke-linejoin="round" textLength="18.2" lengthAdjust="spacingAndGlyphs">VIIIb</text><text transform="translate(240.60 160.00) scale(0.4500)" font-family="Liberation Sans" font-size="10" font-weight="bold" text-anchor="start" fill="#1c140c" stroke="#1c140c" stroke-width="0.2" textLength="18.2" lengthAdjust="spacingAndGlyphs">VIIIb</text><circle cx="257.10" cy="161.20" r="1.25" fill="#961410"/><text transform="translate(256.60 158.80) scale(0.4500)" font-family="Liberation Sans" font-size="10" font-weight="bold" text-anchor="start" fill="none" stroke="#fff6a0" stroke-opacity="0.16" stroke-width="2.2" stroke-linejoin="round" textLength="13.4" lengthAdjust="spacingAndGlyphs">IXb</text><text transform="translate(256.60 158.80) scale(0.4500)" font-family="Liberation Sans" font-size="10" font-weight="bold" text-anchor="start" fill="#1c140c" stroke="#1c140c" stroke-width="0.2" textLength="13.4" lengthAdjust="spacingAndGlyphs">IXb</text><circle cx="262.50" cy="156.00" r="1.25" fill="#961410"/><text transform="translate(263.70 153.60) scale(0.4500)" font-family="Liberation Sans" font-size="10" font-weight="bold" text-anchor="start" fill="none" stroke="#fff6a0" stroke-opacity="0.16" stroke-width="2.2" stroke-linejoin="round" textLength="12.9" lengthAdjust="spacingAndGlyphs">IXc</text><text transform="translate(263.70 153.60) scale(0.4500)" font-family="Liberation Sans" font-size="10" font-weight="bold" text-anchor="start" fill="#1c140c" stroke="#1c140c" stroke-width="0.2" textLength="12.9" lengthAdjust="spacingAndGlyphs">IXc</text><circle cx="262.90" cy="88.30" r="1.25" fill="#961410"/><text transform="translate(264.10 85.90) scale(0.4500)" font-family="Liberation Sans" font-size="10" font-weight="bold" text-anchor="start" fill="none" stroke="#fff6a0" stroke-opacity="0.16" stroke-width="2.2" stroke-linejoin="round" textLength="12.9" lengthAdjust="spacingAndGlyphs">IXa</text><text transform="translate(264.10 85.90) scale(0.4500)" font-family="Liberation Sans" font-size="10" font-weight="bold" text-anchor="start" fill="#1c140c" stroke="#1c140c" stroke-width="0.2" textLength="12.9" lengthAdjust="spacingAndGlyphs">IXa</text><circle cx="280.30" cy="125.00" r="1.25" fill="#961410"/><text transform="translate(281.10 122.80) scale(0.4500)" font-family="Liberation Sans" font-size="10" font-weight="bold" text-anchor="start" fill="none" stroke="#fff6a0" stroke-opacity="0.16" stroke-width="2.2" stroke-linejoin="round" textLength="5.7" lengthAdjust="spacingAndGlyphs">X</text><text transform="translate(281.10 122.80) scale(0.4500)" font-family="Liberation Sans" font-size="10" font-weight="bold" text-anchor="start" fill="#1c140c" stroke="#1c140c" stroke-width="0.2" textLength="5.7" lengthAdjust="spacingAndGlyphs">X</text><circle cx="284.40" cy="122.90" r="1.25" fill="#961410"/><text transform="translate(286.00 120.90) scale(0.4500)" font-family="Liberation Sans" font-size="10" font-weight="bold" text-anchor="start" fill="none" stroke="#fff6a0" stroke-opacity="0.16" stroke-width="2.2" stroke-linejoin="round" textLength="13.4" lengthAdjust="spacingAndGlyphs">XIb</text><text transform="translate(286.00 120.90) scale(0.4500)" font-family="Liberation Sans" font-size="10" font-weight="bold" text-anchor="start" fill="#1c140c" stroke="#1c140c" stroke-width="0.2" textLength="13.4" lengthAdjust="spacingAndGlyphs">XIb</text><circle cx="294.70" cy="128.00" r="1.25" fill="#961410"/><text transform="translate(295.90 125.60) scale(0.4500)" font-family="Liberation Sans" font-size="10" font-weight="bold" text-anchor="start" fill="none" stroke="#fff6a0" stroke-opacity="0.16" stroke-width="2.2" stroke-linejoin="round" textLength="12.9" lengthAdjust="spacingAndGlyphs">XIa</text><text transform="translate(295.90 125.60) scale(0.4500)" font-family="Liberation Sans" font-size="10" font-weight="bold" text-anchor="start" fill="#1c140c" stroke="#1c140c" stroke-width="0.2" textLength="12.9" lengthAdjust="spacingAndGlyphs">XIa</text><text x="13.8" y="145.9" font-family="Liberation Serif" font-weight="normal" font-size="11.6" fill="#000" stroke="#000" stroke-width="0.2" textLength="10.6" lengthAdjust="spacingAndGlyphs">pb</text><circle cx="21.9" cy="158.2" r="1.15" fill="#7a0a05"/><text x="34.3" y="161.2" font-family="Liberation Serif" font-weight="bold" font-size="7.6" fill="#111" stroke="#111" stroke-width="0.28" textLength="25.0" lengthAdjust="spacingAndGlyphs">Stations</text><rect x="12.9" y="166.8" width="18.0" height="9.4" fill="#fff" stroke="#b85858" stroke-width="0.6"/><text x="34.3" y="175.0" font-family="Liberation Serif" font-weight="bold" font-size="7.6" fill="#111" stroke="#111" stroke-width="0.28" textLength="45.2" lengthAdjust="spacingAndGlyphs">Area of Study</text><text x="12.6" y="189.0" font-family="Liberation Sans" font-size="8.0" fill="#111" stroke="#111" stroke-width="0.15" textLength="13.9" lengthAdjust="spacingAndGlyphs">µg/g</text><rect x="12.7" y="193.2" width="16.9" height="19.8" fill="url(#ramp)"/><text x="34.8" y="196.0" font-family="Liberation Sans" font-size="7.8" fill="#111" stroke="#111" stroke-width="0.15" textLength="17.0" lengthAdjust="spacingAndGlyphs">11.24</text><text x="34.8" y="216.2" font-family="Liberation Sans" font-size="7.8" fill="#111" stroke="#111" stroke-width="0.15" textLength="13.2" lengthAdjust="spacingAndGlyphs">8.32</text><rect x="244.05" y="219.20" width="68.05" height="4.10" fill="#fff" stroke="#000" stroke-width="0.45"/><rect x="244.05" y="219.20" width="4.25" height="4.10" fill="#000"/><rect x="252.56" y="219.20" width="4.25" height="4.10" fill="#000"/><rect x="261.06" y="219.20" width="17.01" height="4.10" fill="#000"/><rect x="295.09" y="219.20" width="17.01" height="4.10" fill="#000"/><text transform="translate(244.65 216.90) scale(0.5250)" font-family="Liberation Serif" font-size="10" font-weight="bold" text-anchor="middle" fill="#000">0</text><text transform="translate(252.96 216.90) scale(0.5250)" font-family="Liberation Serif" font-size="10" font-weight="bold" text-anchor="middle" fill="#000">15</text><text transform="translate(261.46 216.90) scale(0.5250)" font-family="Liberation Serif" font-size="10" font-weight="bold" text-anchor="middle" fill="#000">30</text><text transform="translate(278.47 216.90) scale(0.5250)" font-family="Liberation Serif" font-size="10" font-weight="bold" text-anchor="middle" fill="#000">60</text><text transform="translate(295.49 216.90) scale(0.5250)" font-family="Liberation Serif" font-size="10" font-weight="bold" text-anchor="middle" fill="#000">90</text><text transform="translate(312.50 216.90) scale(0.5250)" font-family="Liberation Serif" font-size="10" font-weight="bold" text-anchor="middle" fill="#000">120</text><text transform="translate(313.70 223.40) scale(0.5400)" font-family="Liberation Serif" font-size="10" font-weight="bold" text-anchor="start" fill="#000">Km</text><g transform="translate(306.95 31.75) rotate(3)"><path d="M0,-11.7 L1.15,-4.2 L-1.15,-4.2 Z M0,11.9 L1.15,4.2 L-1.15,4.2 Z M-10.1,0 L-4.2,-1.15 L-4.2,1.15 Z M10.1,0 L4.2,-1.15 L4.2,1.15 Z" fill="#0a0a0a" stroke="#0a0a0a" stroke-width="0.25" stroke-linejoin="round"/><circle cx="0" cy="0" r="4.5" fill="#fff" stroke="#0a0a0a" stroke-width="0.7"/><path d="M0.2,-0.2 L0.2,-4.2 A4.0,4.0 0 0 1 4.2,-0.2 Z M-0.2,0.2 L-0.2,4.2 A4.0,4.0 0 0 1 -4.2,0.2 Z" fill="#000"/></g><text transform="translate(307.60 18.30) scale(0.5400)" font-family="Liberation Serif" font-size="10" font-weight="bold" text-anchor="middle" fill="#222">N</text><text transform="translate(306.30 49.70) scale(0.5400)" font-family="Liberation Serif" font-size="10" font-weight="bold" text-anchor="middle" fill="#222">S</text><text transform="translate(293.90 33.00) scale(0.5500)" font-family="Liberation Serif" font-size="10" font-weight="bold" text-anchor="middle" fill="#222">W</text><text transform="translate(320.00 34.40) scale(0.5300)" font-family="Liberation Serif" font-size="10" font-weight="bold" text-anchor="middle" fill="#222">E</text></g>
<g transform="matrix(0.9580 0 0 1.0640 0.765 290.226)"><g clip-path="url(#land)"><rect x="20" y="55" width="300" height="130" fill="url(#g3base)"/><rect x="20" y="55" width="300" height="130" fill="url(#g3g)"/><rect x="20" y="55" width="300" height="130" fill="url(#g3y)"/><rect x="20" y="55" width="300" height="130" fill="url(#g3r)"/><rect x="20" y="55" width="300" height="130" fill="url(#g3o)"/><rect x="20" y="55" width="300" height="130" fill="url(#g3r2)"/></g><polyline points="313.20,78.20 313.00,115.00 312.50,130.80 310.40,137.80 306.00,143.00 300.70,145.10 297.30,144.00 296.60,139.00 295.00,139.00 294.30,144.10 289.40,148.30 282.30,154.40 275.30,160.60 268.30,165.80 259.60,171.10 250.80,174.60 242.00,175.40 235.90,173.70 230.70,169.30 226.30,164.90 221.00,162.30 214.00,158.40 207.90,155.60 200.50,156.10 191.80,154.60 183.00,153.90 178.30,151.70 177.40,145.90 176.40,143.00 171.30,145.60 166.20,146.60 159.60,144.40 153.10,141.50 150.10,137.10 148.70,132.40 139.20,132.00 133.40,129.80 127.50,126.90 120.20,124.50 115.00,121.60 107.60,119.80 98.80,117.00 88.60,114.90 78.40,111.90 71.10,109.30 66.70,109.70 58.00,112.20 49.20,114.10 40.40,114.60 34.60,112.70 32.40,109.70 32.80,105.40 31.40,101.70 30.20,97.30 26.60,90.80 27.30,86.40 26.10,83.50 26.60,74.00 27.30,62.60" fill="none" stroke="#a8321c" stroke-width="0.55" stroke-linejoin="round"/><polyline points="27.30,61.30 60.00,64.20 100.00,67.30 150.00,70.10 200.00,72.60 230.00,73.90 270.00,75.40 313.20,76.90" fill="none" stroke="#bf8f8f" stroke-width="0.5" stroke-dasharray="9 1.5 5 1"/><path d="M284.0,151.8 l1.8,-1.6 M281.0,154.4 l1.2,-1.1 M295.6,142.4 l0.4,-1.6" stroke="#e82c2c" stroke-width="1.45" fill="none" stroke-linecap="round"/><rect x="6.30" y="7.40" width="321.00" height="225.10" fill="none" stroke="#6e6e6e" stroke-width="0.75"/><line x1="5.00" y1="30.00" x2="6.50" y2="30.00" stroke="#444" stroke-width="0.5"/><text transform="translate(3.90 30.00) rotate(-90) scale(0.3500)" font-family="Liberation Sans" font-size="10" font-weight="normal" text-anchor="middle" fill="#404040">32°40'0"N</text><line x1="5.00" y1="53.55" x2="6.50" y2="53.55" stroke="#444" stroke-width="0.5"/><text transform="translate(3.90 53.55) rotate(-90) scale(0.3500)" font-family="Liberation Sans" font-size="10" font-weight="normal" text-anchor="middle" fill="#404040">32°20'0"N</text><line x1="5.00" y1="77.10" x2="6.50" y2="77.10" stroke="#444" stroke-width="0.5"/><text transform="translate(3.90 77.10) rotate(-90) scale(0.3500)" font-family="Liberation Sans" font-size="10" font-weight="normal" text-anchor="middle" fill="#404040">32°0'0"N</text><line x1="5.00" y1="100.65" x2="6.50" y2="100.65" stroke="#444" stroke-width="0.5"/><text transform="translate(3.90 100.65) rotate(-90) scale(0.3500)" font-family="Liberation Sans" font-size="10" font-weight="normal" text-anchor="middle" fill="#404040">31°40'0"N</text><line x1="5.00" y1="124.20" x2="6.50" y2="124.20" stroke="#444" stroke-width="0.5"/><text transform="translate(3.90 124.20) rotate(-90) scale(0.3500)" font-family="Liberation Sans" font-size="10" font-weight="normal" text-anchor="middle" fill="#404040">31°20'0"N</text><line x1="5.00" y1="147.75" x2="6.50" y2="147.75" stroke="#444" stroke-width="0.5"/><text transform="translate(3.90 147.75) rotate(-90) scale(0.3500)" font-family="Liberation Sans" font-size="10" font-weight="normal" text-anchor="middle" fill="#404040">31°0'0"N</text><line x1="5.00" y1="171.30" x2="6.50" y2="171.30" stroke="#444" stroke-width="0.5"/><text transform="translate(3.90 171.30) rotate(-90) scale(0.3500)" font-family="Liberation Sans" font-size="10" font-weight="normal" text-anchor="middle" fill="#404040">30°40'0"N</text><line x1="5.00" y1="194.85" x2="6.50" y2="194.85" stroke="#444" stroke-width="0.5"/><text transform="translate(3.90 194.85) rotate(-90) scale(0.3500)" font-family="Liberation Sans" font-size="10" font-weight="normal" text-anchor="middle" fill="#404040">30°20'0"N</text><line x1="5.00" y1="218.40" x2="6.50" y2="218.40" stroke="#444" stroke-width="0.5"/><text transform="translate(3.90 218.40) rotate(-90) scale(0.3500)" font-family="Liberation Sans" font-size="10" font-weight="normal" text-anchor="middle" fill="#404040">30°0'0"N</text><line x1="15.60" y1="232.30" x2="15.60" y2="233.80" stroke="#444" stroke-width="0.5"/><text transform="translate(16.70 234.00) rotate(-90) scale(0.3500)" font-family="Liberation Sans" font-size="10" font-weight="normal" text-anchor="end" fill="#404040">25°0'0"E</text><line x1="33.90" y1="232.30" x2="33.90" y2="233.80" stroke="#444" stroke-width="0.5"/><text transform="translate(35.00 234.00) rotate(-90) scale(0.3500)" font-family="Liberation Sans" font-size="10" font-weight="normal" text-anchor="end" fill="#404040">25°40'0"E</text><line x1="52.20" y1="232.30" x2="52.20" y2="233.80" stroke="#444" stroke-width="0.5"/><text transform="translate(53.30 234.00) rotate(-90) scale(0.3500)" font-family="Liberation Sans" font-size="10" font-weight="normal" text-anchor="end" fill="#404040">26°20'0"E</text><line x1="70.50" y1="232.30" x2="70.50" y2="233.80" stroke="#444" stroke-width="0.5"/><text transform="translate(71.60 234.00) rotate(-90) scale(0.3500)" font-family="Liberation Sans" font-size="10" font-weight="normal" text-anchor="end" fill="#404040">27°0'0"E</text><line x1="88.80" y1="232.30" x2="88.80" y2="233.80" stroke="#444" stroke-width="0.5"/><text transform="translate(89.90 234.00) rotate(-90) scale(0.3500)" font-family="Liberation Sans" font-size="10" font-weight="normal" text-anchor="end" fill="#404040">27°40'0"E</text><line x1="107.10" y1="232.30" x2="107.10" y2="233.80" stroke="#444" stroke-width="0.5"/><text transform="translate(108.20 234.00) rotate(-90) scale(0.3500)" font-family="Liberation Sans" font-size="10" font-weight="normal" text-anchor="end" fill="#404040">28°20'0"E</text><line x1="125.40" y1="232.30" x2="125.40" y2="233.80" stroke="#444" stroke-width="0.5"/><text transform="translate(126.50 234.00) rotate(-90) scale(0.3500)" font-family="Liberation Sans" font-size="10" font-weight="normal" text-anchor="end" fill="#404040">29°0'0"E</text><line x1="143.70" y1="232.30" x2="143.70" y2="233.80" stroke="#444" stroke-width="0.5"/><text transform="translate(144.80 234.00) rotate(-90) scale(0.3500)" font-family="Liberation Sans" font-size="10" font-weight="normal" text-anchor="end" fill="#404040">29°40'0"E</text><line x1="162.00" y1="232.30" x2="162.00" y2="233.80" stroke="#444" stroke-width="0.5"/><text transform="translate(163.10 234.00) rotate(-90) scale(0.3500)" font-family="Liberation Sans" font-size="10" font-weight="normal" text-anchor="end" fill="#404040">30°20'0"E</text><line x1="180.30" y1="232.30" x2="180.30" y2="233.80" stroke="#444" stroke-width="0.5"/><text transform="translate(181.40 234.00) rotate(-90) scale(0.3500)" font-family="Liberation Sans" font-size="10" font-weight="normal" text-anchor="end" fill="#404040">31°0'0"E</text><line x1="198.60" y1="232.30" x2="198.60" y2="233.80" stroke="#444" stroke-width="0.5"/><text transform="translate(199.70 234.00) rotate(-90) scale(0.3500)" font-family="Liberation Sans" font-size="10" font-weight="normal" text-anchor="end" fill="#404040">31°40'0"E</text><line x1="216.90" y1="232.30" x2="216.90" y2="233.80" stroke="#444" stroke-width="0.5"/><text transform="translate(218.00 234.00) rotate(-90) scale(0.3500)" font-family="Liberation Sans" font-size="10" font-weight="normal" text-anchor="end" fill="#404040">32°20'0"E</text><line x1="235.20" y1="232.30" x2="235.20" y2="233.80" stroke="#444" stroke-width="0.5"/><text transform="translate(236.30 234.00) rotate(-90) scale(0.3500)" font-family="Liberation Sans" font-size="10" font-weight="normal" text-anchor="end" fill="#404040">33°0'0"E</text><line x1="253.50" y1="232.30" x2="253.50" y2="233.80" stroke="#444" stroke-width="0.5"/><text transform="translate(254.60 234.00) rotate(-90) scale(0.3500)" font-family="Liberation Sans" font-size="10" font-weight="normal" text-anchor="end" fill="#404040">33°40'0"E</text><line x1="271.80" y1="232.30" x2="271.80" y2="233.80" stroke="#444" stroke-width="0.5"/><text transform="translate(272.90 234.00) rotate(-90) scale(0.3500)" font-family="Liberation Sans" font-size="10" font-weight="normal" text-anchor="end" fill="#404040">34°20'0"E</text><line x1="290.10" y1="232.30" x2="290.10" y2="233.80" stroke="#444" stroke-width="0.5"/><text transform="translate(291.20 234.00) rotate(-90) scale(0.3500)" font-family="Liberation Sans" font-size="10" font-weight="normal" text-anchor="end" fill="#404040">35°0'0"E</text><line x1="308.40" y1="232.30" x2="308.40" y2="233.80" stroke="#444" stroke-width="0.5"/><text transform="translate(309.50 234.00) rotate(-90) scale(0.3500)" font-family="Liberation Sans" font-size="10" font-weight="normal" text-anchor="end" fill="#404040">35°40'0"E</text><line x1="326.70" y1="232.30" x2="326.70" y2="233.80" stroke="#444" stroke-width="0.5"/><text transform="translate(327.80 234.00) rotate(-90) scale(0.3500)" font-family="Liberation Sans" font-size="10" font-weight="normal" text-anchor="end" fill="#404040">36°20'0"E</text><circle cx="43.10" cy="85.70" r="1.25" fill="#961410"/><text transform="translate(44.30 83.30) scale(0.4500)" font-family="Liberation Sans" font-size="10" font-weight="bold" text-anchor="start" fill="none" stroke="#fff6a0" stroke-opacity="0.16" stroke-width="2.2" stroke-linejoin="round" textLength="7.2" lengthAdjust="spacingAndGlyphs">Ic</text><text transform="translate(44.30 83.30) scale(0.4500)" font-family="Liberation Sans" font-size="10" font-weight="bold" text-anchor="start" fill="#1c140c" stroke="#1c140c" stroke-width="0.2" textLength="7.2" lengthAdjust="spacingAndGlyphs">Ic</text><circle cx="39.50" cy="98.80" r="1.25" fill="#961410"/><text transform="translate(40.70 96.40) scale(0.4500)" font-family="Liberation Sans" font-size="10" font-weight="bold" text-anchor="start" fill="none" stroke="#fff6a0" stroke-opacity="0.16" stroke-width="2.2" stroke-linejoin="round" textLength="7.6" lengthAdjust="spacingAndGlyphs">Ib</text><text transform="translate(40.70 96.40) scale(0.4500)" font-family="Liberation Sans" font-size="10" font-weight="bold" text-anchor="start" fill="#1c140c" stroke="#1c140c" stroke-width="0.2" textLength="7.6" lengthAdjust="spacingAndGlyphs">Ib</text><circle cx="51.10" cy="102.70" r="1.25" fill="#961410"/><text transform="translate(52.30 100.30) scale(0.4500)" font-family="Liberation Sans" font-size="10" font-weight="bold" text-anchor="start" fill="none" stroke="#fff6a0" stroke-opacity="0.16" stroke-width="2.2" stroke-linejoin="round" textLength="7.2" lengthAdjust="spacingAndGlyphs">Ia</text><text transform="translate(52.30 100.30) scale(0.4500)" font-family="Liberation Sans" font-size="10" font-weight="bold" text-anchor="start" fill="#1c140c" stroke="#1c140c" stroke-width="0.2" textLength="7.2" lengthAdjust="spacingAndGlyphs">Ia</text><circle cx="62.70" cy="100.30" r="1.25" fill="#961410"/><text transform="translate(64.10 97.90) scale(0.4500)" font-family="Liberation Sans" font-size="10" font-weight="bold" text-anchor="start" fill="none" stroke="#fff6a0" stroke-opacity="0.16" stroke-width="2.2" stroke-linejoin="round" textLength="2.4" lengthAdjust="spacingAndGlyphs">I</text><text transform="translate(64.10 97.90) scale(0.4500)" font-family="Liberation Sans" font-size="10" font-weight="bold" text-anchor="start" fill="#1c140c" stroke="#1c140c" stroke-width="0.2" textLength="2.4" lengthAdjust="spacingAndGlyphs">I</text><circle cx="99.80" cy="88.70" r="1.25" fill="#961410"/><text transform="translate(101.00 86.30) scale(0.4500)" font-family="Liberation Sans" font-size="10" font-weight="bold" text-anchor="start" fill="none" stroke="#fff6a0" stroke-opacity="0.16" stroke-width="2.2" stroke-linejoin="round" textLength="12.0" lengthAdjust="spacingAndGlyphs">IIIc</text><text transform="translate(101.00 86.30) scale(0.4500)" font-family="Liberation Sans" font-size="10" font-weight="bold" text-anchor="start" fill="#1c140c" stroke="#1c140c" stroke-width="0.2" textLength="12.0" lengthAdjust="spacingAndGlyphs">IIIc</text><circle cx="91.00" cy="103.60" r="1.25" fill="#961410"/><text transform="translate(92.00 101.00) scale(0.4500)" font-family="Liberation Sans" font-size="10" font-weight="bold" text-anchor="start" fill="none" stroke="#fff6a0" stroke-opacity="0.16" stroke-width="2.2" stroke-linejoin="round" textLength="12.4" lengthAdjust="spacingAndGlyphs">IIIb</text><text transform="translate(92.00 101.00) scale(0.4500)" font-family="Liberation Sans" font-size="10" font-weight="bold" text-anchor="start" fill="#1c140c" stroke="#1c140c" stroke-width="0.2" textLength="12.4" lengthAdjust="spacingAndGlyphs">IIIb</text><circle cx="96.10" cy="103.60" r="1.25" fill="#961410"/><text transform="translate(97.70 107.00) scale(0.4500)" font-family="Liberation Sans" font-size="10" font-weight="bold" text-anchor="start" fill="none" stroke="#fff6a0" stroke-opacity="0.16" stroke-width="2.2" stroke-linejoin="round" textLength="12.0" lengthAdjust="spacingAndGlyphs">IIIa</text><text transform="translate(97.70 107.00) scale(0.4500)" font-family="Liberation Sans" font-size="10" font-weight="bold" text-anchor="start" fill="#1c140c" stroke="#1c140c" stroke-width="0.2" textLength="12.0" lengthAdjust="spacingAndGlyphs">IIIa</text><circle cx="115.00" cy="113.10" r="1.25" fill="#961410"/><text transform="translate(116.20 110.70) scale(0.4500)" font-family="Liberation Sans" font-size="10" font-weight="bold" text-anchor="start" fill="none" stroke="#fff6a0" stroke-opacity="0.16" stroke-width="2.2" stroke-linejoin="round" textLength="8.1" lengthAdjust="spacingAndGlyphs">IV</text><text transform="translate(116.20 110.70) scale(0.4500)" font-family="Liberation Sans" font-size="10" font-weight="bold" text-anchor="start" fill="#1c140c" stroke="#1c140c" stroke-width="0.2" textLength="8.1" lengthAdjust="spacingAndGlyphs">IV</text><circle cx="163.00" cy="123.80" r="1.25" fill="#961410"/><text transform="translate(164.20 121.40) scale(0.4500)" font-family="Liberation Sans" font-size="10" font-weight="bold" text-anchor="start" fill="none" stroke="#fff6a0" stroke-opacity="0.16" stroke-width="2.2" stroke-linejoin="round" textLength="5.7" lengthAdjust="spacingAndGlyphs">V</text><text transform="translate(164.20 121.40) scale(0.4500)" font-family="Liberation Sans" font-size="10" font-weight="bold" text-anchor="start" fill="#1c140c" stroke="#1c140c" stroke-width="0.2" textLength="5.7" lengthAdjust="spacingAndGlyphs">V</text><circle cx="200.30" cy="135.40" r="1.25" fill="#961410"/><text transform="translate(201.90 133.00) scale(0.4500)" font-family="Liberation Sans" font-size="10" font-weight="bold" text-anchor="start" fill="none" stroke="#fff6a0" stroke-opacity="0.16" stroke-width="2.2" stroke-linejoin="round" textLength="8.1" lengthAdjust="spacingAndGlyphs">VI</text><text transform="translate(201.90 133.00) scale(0.4500)" font-family="Liberation Sans" font-size="10" font-weight="bold" text-anchor="start" fill="#1c140c" stroke="#1c140c" stroke-width="0.2" textLength="8.1" lengthAdjust="spacingAndGlyphs">VI</text><circle cx="207.80" cy="135.50" r="1.25" fill="#961410"/><text transform="translate(209.40 133.10) scale(0.4500)" font-family="Liberation Sans" font-size="10" font-weight="bold" text-anchor="start" fill="none" stroke="#fff6a0" stroke-opacity="0.16" stroke-width="2.2" stroke-linejoin="round" textLength="15.3" lengthAdjust="spacingAndGlyphs">VIIa</text><text transform="translate(209.40 133.10) scale(0.4500)" font-family="Liberation Sans" font-size="10" font-weight="bold" text-anchor="start" fill="#1c140c" stroke="#1c140c" stroke-width="0.2" textLength="15.3" lengthAdjust="spacingAndGlyphs">VIIa</text><circle cx="207.30" cy="144.60" r="1.25" fill="#961410"/><text transform="translate(208.90 142.60) scale(0.4500)" font-family="Liberation Sans" font-size="10" font-weight="bold" text-anchor="start" fill="none" stroke="#fff6a0" stroke-opacity="0.16" stroke-width="2.2" stroke-linejoin="round" textLength="15.8" lengthAdjust="spacingAndGlyphs">VIIb</text><text transform="translate(208.90 142.60) scale(0.4500)" font-family="Liberation Sans" font-size="10" font-weight="bold" text-anchor="start" fill="#1c140c" stroke="#1c140c" stroke-width="0.2" textLength="15.8" lengthAdjust="spacingAndGlyphs">VIIb</text><circle cx="228.70" cy="154.00" r="1.25" fill="#961410"/><text transform="translate(223.20 152.20) scale(0.4500)" font-family="Liberation Sans" font-size="10" font-weight="bold" text-anchor="start" fill="none" stroke="#fff6a0" stroke-opacity="0.16" stroke-width="2.2" stroke-linejoin="round" textLength="17.7" lengthAdjust="spacingAndGlyphs">VIIIa</text><text transform="translate(223.20 152.20) scale(0.4500)" font-family="Liberation Sans" font-size="10" font-weight="bold" text-anchor="start" fill="#1c140c" stroke="#1c140c" stroke-width="0.2" textLength="17.7" lengthAdjust="spacingAndGlyphs">VIIIa</text><circle cx="230.80" cy="156.80" r="1.25" fill="#961410"/><text transform="translate(232.40 155.00) scale(0.4500)" font-family="Liberation Sans" font-size="10" font-weight="bold" text-anchor="start" fill="none" stroke="#fff6a0" stroke-opacity="0.16" stroke-width="2.2" stroke-linejoin="round" textLength="17.7" lengthAdjust="spacingAndGlyphs">VIIIc</text><text transform="translate(232.40 155.00) scale(0.4500)" font-family="Liberation Sans" font-size="10" font-weight="bold" text-anchor="start" fill="#1c140c" stroke="#1c140c" stroke-width="0.2" textLength="17.7" lengthAdjust="spacingAndGlyphs">VIIIc</text><text transform="translate(240.60 160.00) scale(0.4500)" font-family="Liberation Sans" font-size="10" font-weight="bold" text-anchor="start" fill="none" stroke="#fff6a0" stroke-opacity="0.16" stroke-width="2.2" stroke-linejoin="round" textLength="18.2" lengthAdjust="spacingAndGlyphs">VIIIb</text><text transform="translate(240.60 160.00) scale(0.4500)" font-family="Liberation Sans" font-size="10" font-weight="bold" text-anchor="start" fill="#1c140c" stroke="#1c140c" stroke-width="0.2" textLength="18.2" lengthAdjust="spacingAndGlyphs">VIIIb</text><circle cx="257.10" cy="161.20" r="1.25" fill="#961410"/><text transform="translate(256.60 158.80) scale(0.4500)" font-family="Liberation Sans" font-size="10" font-weight="bold" text-anchor="start" fill="none" stroke="#fff6a0" stroke-opacity="0.16" stroke-width="2.2" stroke-linejoin="round" textLength="13.4" lengthAdjust="spacingAndGlyphs">IXb</text><text transform="translate(256.60 158.80) scale(0.4500)" font-family="Liberation Sans" font-size="10" font-weight="bold" text-anchor="start" fill="#1c140c" stroke="#1c140c" stroke-width="0.2" textLength="13.4" lengthAdjust="spacingAndGlyphs">IXb</text><circle cx="262.50" cy="156.00" r="1.25" fill="#961410"/><text transform="translate(263.70 153.60) scale(0.4500)" font-family="Liberation Sans" font-size="10" font-weight="bold" text-anchor="start" fill="none" stroke="#fff6a0" stroke-opacity="0.16" stroke-width="2.2" stroke-linejoin="round" textLength="12.9" lengthAdjust="spacingAndGlyphs">IXc</text><text transform="translate(263.70 153.60) scale(0.4500)" font-family="Liberation Sans" font-size="10" font-weight="bold" text-anchor="start" fill="#1c140c" stroke="#1c140c" stroke-width="0.2" textLength="12.9" lengthAdjust="spacingAndGlyphs">IXc</text><circle cx="262.90" cy="88.30" r="1.25" fill="#961410"/><text transform="translate(264.10 85.90) scale(0.4500)" font-family="Liberation Sans" font-size="10" font-weight="bold" text-anchor="start" fill="none" stroke="#fff6a0" stroke-opacity="0.16" stroke-width="2.2" stroke-linejoin="round" textLength="12.9" lengthAdjust="spacingAndGlyphs">IXa</text><text transform="translate(264.10 85.90) scale(0.4500)" font-family="Liberation Sans" font-size="10" font-weight="bold" text-anchor="start" fill="#1c140c" stroke="#1c140c" stroke-width="0.2" textLength="12.9" lengthAdjust="spacingAndGlyphs">IXa</text><circle cx="280.30" cy="125.00" r="1.25" fill="#961410"/><text transform="translate(281.10 122.80) scale(0.4500)" font-family="Liberation Sans" font-size="10" font-weight="bold" text-anchor="start" fill="none" stroke="#fff6a0" stroke-opacity="0.16" stroke-width="2.2" stroke-linejoin="round" textLength="5.7" lengthAdjust="spacingAndGlyphs">X</text><text transform="translate(281.10 122.80) scale(0.4500)" font-family="Liberation Sans" font-size="10" font-weight="bold" text-anchor="start" fill="#1c140c" stroke="#1c140c" stroke-width="0.2" textLength="5.7" lengthAdjust="spacingAndGlyphs">X</text><circle cx="284.40" cy="122.90" r="1.25" fill="#961410"/><text transform="translate(286.00 120.90) scale(0.4500)" font-family="Liberation Sans" font-size="10" font-weight="bold" text-anchor="start" fill="none" stroke="#fff6a0" stroke-opacity="0.16" stroke-width="2.2" stroke-linejoin="round" textLength="13.4" lengthAdjust="spacingAndGlyphs">XIb</text><text transform="translate(286.00 120.90) scale(0.4500)" font-family="Liberation Sans" font-size="10" font-weight="bold" text-anchor="start" fill="#1c140c" stroke="#1c140c" stroke-width="0.2" textLength="13.4" lengthAdjust="spacingAndGlyphs">XIb</text><circle cx="294.70" cy="128.00" r="1.25" fill="#961410"/><text transform="translate(295.90 125.60) scale(0.4500)" font-family="Liberation Sans" font-size="10" font-weight="bold" text-anchor="start" fill="none" stroke="#fff6a0" stroke-opacity="0.16" stroke-width="2.2" stroke-linejoin="round" textLength="12.9" lengthAdjust="spacingAndGlyphs">XIa</text><text transform="translate(295.90 125.60) scale(0.4500)" font-family="Liberation Sans" font-size="10" font-weight="bold" text-anchor="start" fill="#1c140c" stroke="#1c140c" stroke-width="0.2" textLength="12.9" lengthAdjust="spacingAndGlyphs">XIa</text><text x="13.3" y="144.9" font-family="Liberation Serif" font-weight="bold" font-size="11.6" fill="#000" stroke="#000" stroke-width="0.35" textLength="9.2" lengthAdjust="spacingAndGlyphs">Ti</text><circle cx="21.9" cy="158.2" r="1.15" fill="#7a0a05"/><text x="34.3" y="161.2" font-family="Liberation Serif" font-weight="bold" font-size="7.6" fill="#111" stroke="#111" stroke-width="0.28" textLength="25.0" lengthAdjust="spacingAndGlyphs">Stations</text><rect x="12.9" y="166.8" width="18.0" height="9.4" fill="#fff" stroke="#b85858" stroke-width="0.6"/><text x="34.3" y="175.0" font-family="Liberation Serif" font-weight="bold" font-size="7.6" fill="#111" stroke="#111" stroke-width="0.28" textLength="45.2" lengthAdjust="spacingAndGlyphs">Area of Study</text><text x="12.6" y="189.0" font-family="Liberation Sans" font-size="8.0" fill="#111" stroke="#111" stroke-width="0.15" textLength="13.9" lengthAdjust="spacingAndGlyphs">µg/g</text><rect x="12.7" y="193.2" width="16.9" height="19.8" fill="url(#ramp)"/><text x="34.8" y="196.0" font-family="Liberation Sans" font-size="7.8" fill="#111" stroke="#111" stroke-width="0.15" textLength="26.2" lengthAdjust="spacingAndGlyphs">1557.26</text><text x="34.8" y="216.2" font-family="Liberation Sans" font-size="7.8" fill="#111" stroke="#111" stroke-width="0.15" textLength="22.2" lengthAdjust="spacingAndGlyphs">372.03</text><rect x="244.05" y="219.20" width="68.05" height="4.10" fill="#fff" stroke="#000" stroke-width="0.45"/><rect x="244.05" y="219.20" width="4.25" height="4.10" fill="#000"/><rect x="252.56" y="219.20" width="4.25" height="4.10" fill="#000"/><rect x="261.06" y="219.20" width="17.01" height="4.10" fill="#000"/><rect x="295.09" y="219.20" width="17.01" height="4.10" fill="#000"/><text transform="translate(244.65 216.90) scale(0.5250)" font-family="Liberation Serif" font-size="10" font-weight="bold" text-anchor="middle" fill="#000">0</text><text transform="translate(252.96 216.90) scale(0.5250)" font-family="Liberation Serif" font-size="10" font-weight="bold" text-anchor="middle" fill="#000">15</text><text transform="translate(261.46 216.90) scale(0.5250)" font-family="Liberation Serif" font-size="10" font-weight="bold" text-anchor="middle" fill="#000">30</text><text transform="translate(278.47 216.90) scale(0.5250)" font-family="Liberation Serif" font-size="10" font-weight="bold" text-anchor="middle" fill="#000">60</text><text transform="translate(295.49 216.90) scale(0.5250)" font-family="Liberation Serif" font-size="10" font-weight="bold" text-anchor="middle" fill="#000">90</text><text transform="translate(312.50 216.90) scale(0.5250)" font-family="Liberation Serif" font-size="10" font-weight="bold" text-anchor="middle" fill="#000">120</text><text transform="translate(313.70 223.40) scale(0.5400)" font-family="Liberation Serif" font-size="10" font-weight="bold" text-anchor="start" fill="#000">Km</text><g transform="translate(306.95 31.75) rotate(3)"><path d="M0,-11.7 L1.15,-4.2 L-1.15,-4.2 Z M0,11.9 L1.15,4.2 L-1.15,4.2 Z M-10.1,0 L-4.2,-1.15 L-4.2,1.15 Z M10.1,0 L4.2,-1.15 L4.2,1.15 Z" fill="#0a0a0a" stroke="#0a0a0a" stroke-width="0.25" stroke-linejoin="round"/><circle cx="0" cy="0" r="4.5" fill="#fff" stroke="#0a0a0a" stroke-width="0.7"/><path d="M0.2,-0.2 L0.2,-4.2 A4.0,4.0 0 0 1 4.2,-0.2 Z M-0.2,0.2 L-0.2,4.2 A4.0,4.0 0 0 1 -4.2,0.2 Z" fill="#000"/></g><text transform="translate(307.60 18.30) scale(0.5400)" font-family="Liberation Serif" font-size="10" font-weight="bold" text-anchor="middle" fill="#222">N</text><text transform="translate(306.30 49.70) scale(0.5400)" font-family="Liberation Serif" font-size="10" font-weight="bold" text-anchor="middle" fill="#222">S</text><text transform="translate(293.90 33.00) scale(0.5500)" font-family="Liberation Serif" font-size="10" font-weight="bold" text-anchor="middle" fill="#222">W</text><text transform="translate(320.00 34.40) scale(0.5300)" font-family="Liberation Serif" font-size="10" font-weight="bold" text-anchor="middle" fill="#222">E</text></g>
<g transform="matrix(0.9000 0 0 1.0580 387.630 291.871)"><g clip-path="url(#land)"><rect x="20" y="55" width="300" height="130" fill="url(#g4base)"/><rect x="20" y="55" width="209.30" height="130" fill="url(#g4g)"/><rect x="20" y="55" width="209.30" height="130" fill="url(#g4o)"/><rect x="20" y="55" width="209.30" height="130" fill="url(#g4r)"/><rect x="20" y="55" width="209.30" height="130" fill="url(#g4v)"/><rect x="229.30" y="55" width="120" height="130" fill="url(#g4d)"/></g><polyline points="313.20,78.20 313.00,115.00 312.50,130.80 310.40,137.80 306.00,143.00 300.70,145.10 297.30,144.00 296.60,139.00 295.00,139.00 294.30,144.10 289.40,148.30 282.30,154.40 275.30,160.60 268.30,165.80 259.60,171.10 250.80,174.60 242.00,175.40 235.90,173.70 230.70,169.30 226.30,164.90 221.00,162.30 214.00,158.40 207.90,155.60 200.50,156.10 191.80,154.60 183.00,153.90 178.30,151.70 177.40,145.90 176.40,143.00 171.30,145.60 166.20,146.60 159.60,144.40 153.10,141.50 150.10,137.10 148.70,132.40 139.20,132.00 133.40,129.80 127.50,126.90 120.20,124.50 115.00,121.60 107.60,119.80 98.80,117.00 88.60,114.90 78.40,111.90 71.10,109.30 66.70,109.70 58.00,112.20 49.20,114.10 40.40,114.60 34.60,112.70 32.40,109.70 32.80,105.40 31.40,101.70 30.20,97.30 26.60,90.80 27.30,86.40 26.10,83.50 26.60,74.00 27.30,62.60" fill="none" stroke="#a8321c" stroke-width="0.55" stroke-linejoin="round"/><polyline points="27.30,61.30 60.00,64.20 100.00,67.30 150.00,70.10 200.00,72.60 230.00,73.90 270.00,75.40 313.20,76.90" fill="none" stroke="#bf8f8f" stroke-width="0.5" stroke-dasharray="9 1.5 5 1"/><path d="M284.0,151.8 l1.8,-1.6 M281.0,154.4 l1.2,-1.1 M295.6,142.4 l0.4,-1.6" stroke="#e82c2c" stroke-width="1.45" fill="none" stroke-linecap="round"/><rect x="6.30" y="7.40" width="321.00" height="225.10" fill="none" stroke="#6e6e6e" stroke-width="0.75"/><line x1="5.00" y1="30.00" x2="6.50" y2="30.00" stroke="#444" stroke-width="0.5"/><text transform="translate(3.90 30.00) rotate(-90) scale(0.3500)" font-family="Liberation Sans" font-size="10" font-weight="normal" text-anchor="middle" fill="#404040">32°40'0"N</text><line x1="5.00" y1="53.55" x2="6.50" y2="53.55" stroke="#444" stroke-width="0.5"/><text transform="translate(3.90 53.55) rotate(-90) scale(0.3500)" font-family="Liberation Sans" font-size="10" font-weight="normal" text-anchor="middle" fill="#404040">32°20'0"N</text><line x1="5.00" y1="77.10" x2="6.50" y2="77.10" stroke="#444" stroke-width="0.5"/><text transform="translate(3.90 77.10) rotate(-90) scale(0.3500)" font-family="Liberation Sans" font-size="10" font-weight="normal" text-anchor="middle" fill="#404040">32°0'0"N</text><line x1="5.00" y1="100.65" x2="6.50" y2="100.65" stroke="#444" stroke-width="0.5"/><text transform="translate(3.90 100.65) rotate(-90) scale(0.3500)" font-family="Liberation Sans" font-size="10" font-weight="normal" text-anchor="middle" fill="#404040">31°40'0"N</text><line x1="5.00" y1="124.20" x2="6.50" y2="124.20" stroke="#444" stroke-width="0.5"/><text transform="translate(3.90 124.20) rotate(-90) scale(0.3500)" font-family="Liberation Sans" font-size="10" font-weight="normal" text-anchor="middle" fill="#404040">31°20'0"N</text><line x1="5.00" y1="147.75" x2="6.50" y2="147.75" stroke="#444" stroke-width="0.5"/><text transform="translate(3.90 147.75) rotate(-90) scale(0.3500)" font-family="Liberation Sans" font-size="10" font-weight="normal" text-anchor="middle" fill="#404040">31°0'0"N</text><line x1="5.00" y1="171.30" x2="6.50" y2="171.30" stroke="#444" stroke-width="0.5"/><text transform="translate(3.90 171.30) rotate(-90) scale(0.3500)" font-family="Liberation Sans" font-size="10" font-weight="normal" text-anchor="middle" fill="#404040">30°40'0"N</text><line x1="5.00" y1="194.85" x2="6.50" y2="194.85" stroke="#444" stroke-width="0.5"/><text transform="translate(3.90 194.85) rotate(-90) scale(0.3500)" font-family="Liberation Sans" font-size="10" font-weight="normal" text-anchor="middle" fill="#404040">30°20'0"N</text><line x1="5.00" y1="218.40" x2="6.50" y2="218.40" stroke="#444" stroke-width="0.5"/><text transform="translate(3.90 218.40) rotate(-90) scale(0.3500)" font-family="Liberation Sans" font-size="10" font-weight="normal" text-anchor="middle" fill="#404040">30°0'0"N</text><line x1="15.60" y1="232.30" x2="15.60" y2="233.80" stroke="#444" stroke-width="0.5"/><text transform="translate(16.70 234.00) rotate(-90) scale(0.3500)" font-family="Liberation Sans" font-size="10" font-weight="normal" text-anchor="end" fill="#404040">25°0'0"E</text><line x1="33.90" y1="232.30" x2="33.90" y2="233.80" stroke="#444" stroke-width="0.5"/><text transform="translate(35.00 234.00) rotate(-90) scale(0.3500)" font-family="Liberation Sans" font-size="10" font-weight="normal" text-anchor="end" fill="#404040">25°40'0"E</text><line x1="52.20" y1="232.30" x2="52.20" y2="233.80" stroke="#444" stroke-width="0.5"/><text transform="translate(53.30 234.00) rotate(-90) scale(0.3500)" font-family="Liberation Sans" font-size="10" font-weight="normal" text-anchor="end" fill="#404040">26°20'0"E</text><line x1="70.50" y1="232.30" x2="70.50" y2="233.80" stroke="#444" stroke-width="0.5"/><text transform="translate(71.60 234.00) rotate(-90) scale(0.3500)" font-family="Liberation Sans" font-size="10" font-weight="normal" text-anchor="end" fill="#404040">27°0'0"E</text><line x1="88.80" y1="232.30" x2="88.80" y2="233.80" stroke="#444" stroke-width="0.5"/><text transform="translate(89.90 234.00) rotate(-90) scale(0.3500)" font-family="Liberation Sans" font-size="10" font-weight="normal" text-anchor="end" fill="#404040">27°40'0"E</text><line x1="107.10" y1="232.30" x2="107.10" y2="233.80" stroke="#444" stroke-width="0.5"/><text transform="translate(108.20 234.00) rotate(-90) scale(0.3500)" font-family="Liberation Sans" font-size="10" font-weight="normal" text-anchor="end" fill="#404040">28°20'0"E</text><line x1="125.40" y1="232.30" x2="125.40" y2="233.80" stroke="#444" stroke-width="0.5"/><text transform="translate(126.50 234.00) rotate(-90) scale(0.3500)" font-family="Liberation Sans" font-size="10" font-weight="normal" text-anchor="end" fill="#404040">29°0'0"E</text><line x1="143.70" y1="232.30" x2="143.70" y2="233.80" stroke="#444" stroke-width="0.5"/><text transform="translate(144.80 234.00) rotate(-90) scale(0.3500)" font-family="Liberation Sans" font-size="10" font-weight="normal" text-anchor="end" fill="#404040">29°40'0"E</text><line x1="162.00" y1="232.30" x2="162.00" y2="233.80" stroke="#444" stroke-width="0.5"/><text transform="translate(163.10 234.00) rotate(-90) scale(0.3500)" font-family="Liberation Sans" font-size="10" font-weight="normal" text-anchor="end" fill="#404040">30°20'0"E</text><line x1="180.30" y1="232.30" x2="180.30" y2="233.80" stroke="#444" stroke-width="0.5"/><text transform="translate(181.40 234.00) rotate(-90) scale(0.3500)" font-family="Liberation Sans" font-size="10" font-weight="normal" text-anchor="end" fill="#404040">31°0'0"E</text><line x1="198.60" y1="232.30" x2="198.60" y2="233.80" stroke="#444" stroke-width="0.5"/><text transform="translate(199.70 234.00) rotate(-90) scale(0.3500)" font-family="Liberation Sans" font-size="10" font-weight="normal" text-anchor="end" fill="#404040">31°40'0"E</text><line x1="216.90" y1="232.30" x2="216.90" y2="233.80" stroke="#444" stroke-width="0.5"/><text transform="translate(218.00 234.00) rotate(-90) scale(0.3500)" font-family="Liberation Sans" font-size="10" font-weight="normal" text-anchor="end" fill="#404040">32°20'0"E</text><line x1="235.20" y1="232.30" x2="235.20" y2="233.80" stroke="#444" stroke-width="0.5"/><text transform="translate(236.30 234.00) rotate(-90) scale(0.3500)" font-family="Liberation Sans" font-size="10" font-weight="normal" text-anchor="end" fill="#404040">33°0'0"E</text><line x1="253.50" y1="232.30" x2="253.50" y2="233.80" stroke="#444" stroke-width="0.5"/><text transform="translate(254.60 234.00) rotate(-90) scale(0.3500)" font-family="Liberation Sans" font-size="10" font-weight="normal" text-anchor="end" fill="#404040">33°40'0"E</text><line x1="271.80" y1="232.30" x2="271.80" y2="233.80" stroke="#444" stroke-width="0.5"/><text transform="translate(272.90 234.00) rotate(-90) scale(0.3500)" font-family="Liberation Sans" font-size="10" font-weight="normal" text-anchor="end" fill="#404040">34°20'0"E</text><line x1="290.10" y1="232.30" x2="290.10" y2="233.80" stroke="#444" stroke-width="0.5"/><text transform="translate(291.20 234.00) rotate(-90) scale(0.3500)" font-family="Liberation Sans" font-size="10" font-weight="normal" text-anchor="end" fill="#404040">35°0'0"E</text><line x1="308.40" y1="232.30" x2="308.40" y2="233.80" stroke="#444" stroke-width="0.5"/><text transform="translate(309.50 234.00) rotate(-90) scale(0.3500)" font-family="Liberation Sans" font-size="10" font-weight="normal" text-anchor="end" fill="#404040">35°40'0"E</text><line x1="326.70" y1="232.30" x2="326.70" y2="233.80" stroke="#444" stroke-width="0.5"/><text transform="translate(327.80 234.00) rotate(-90) scale(0.3500)" font-family="Liberation Sans" font-size="10" font-weight="normal" text-anchor="end" fill="#404040">36°20'0"E</text><circle cx="43.10" cy="85.70" r="1.25" fill="#961410"/><text transform="translate(44.30 83.30) scale(0.4500)" font-family="Liberation Sans" font-size="10" font-weight="bold" text-anchor="start" fill="none" stroke="#fff6a0" stroke-opacity="0.16" stroke-width="2.2" stroke-linejoin="round" textLength="7.2" lengthAdjust="spacingAndGlyphs">Ic</text><text transform="translate(44.30 83.30) scale(0.4500)" font-family="Liberation Sans" font-size="10" font-weight="bold" text-anchor="start" fill="#1c140c" stroke="#1c140c" stroke-width="0.2" textLength="7.2" lengthAdjust="spacingAndGlyphs">Ic</text><circle cx="39.50" cy="98.80" r="1.25" fill="#961410"/><text transform="translate(40.70 96.40) scale(0.4500)" font-family="Liberation Sans" font-size="10" font-weight="bold" text-anchor="start" fill="none" stroke="#fff6a0" stroke-opacity="0.16" stroke-width="2.2" stroke-linejoin="round" textLength="7.6" lengthAdjust="spacingAndGlyphs">Ib</text><text transform="translate(40.70 96.40) scale(0.4500)" font-family="Liberation Sans" font-size="10" font-weight="bold" text-anchor="start" fill="#1c140c" stroke="#1c140c" stroke-width="0.2" textLength="7.6" lengthAdjust="spacingAndGlyphs">Ib</text><circle cx="51.10" cy="102.70" r="1.25" fill="#961410"/><text transform="translate(52.30 100.30) scale(0.4500)" font-family="Liberation Sans" font-size="10" font-weight="bold" text-anchor="start" fill="none" stroke="#fff6a0" stroke-opacity="0.16" stroke-width="2.2" stroke-linejoin="round" textLength="7.2" lengthAdjust="spacingAndGlyphs">Ia</text><text transform="translate(52.30 100.30) scale(0.4500)" font-family="Liberation Sans" font-size="10" font-weight="bold" text-anchor="start" fill="#1c140c" stroke="#1c140c" stroke-width="0.2" textLength="7.2" lengthAdjust="spacingAndGlyphs">Ia</text><circle cx="62.70" cy="100.30" r="1.25" fill="#961410"/><text transform="translate(64.10 97.90) scale(0.4500)" font-family="Liberation Sans" font-size="10" font-weight="bold" text-anchor="start" fill="none" stroke="#fff6a0" stroke-opacity="0.16" stroke-width="2.2" stroke-linejoin="round" textLength="2.4" lengthAdjust="spacingAndGlyphs">I</text><text transform="translate(64.10 97.90) scale(0.4500)" font-family="Liberation Sans" font-size="10" font-weight="bold" text-anchor="start" fill="#1c140c" stroke="#1c140c" stroke-width="0.2" textLength="2.4" lengthAdjust="spacingAndGlyphs">I</text><circle cx="99.80" cy="88.70" r="1.25" fill="#961410"/><text transform="translate(101.00 86.30) scale(0.4500)" font-family="Liberation Sans" font-size="10" font-weight="bold" text-anchor="start" fill="none" stroke="#fff6a0" stroke-opacity="0.16" stroke-width="2.2" stroke-linejoin="round" textLength="12.0" lengthAdjust="spacingAndGlyphs">IIIc</text><text transform="translate(101.00 86.30) scale(0.4500)" font-family="Liberation Sans" font-size="10" font-weight="bold" text-anchor="start" fill="#1c140c" stroke="#1c140c" stroke-width="0.2" textLength="12.0" lengthAdjust="spacingAndGlyphs">IIIc</text><circle cx="91.00" cy="103.60" r="1.25" fill="#961410"/><text transform="translate(92.00 101.00) scale(0.4500)" font-family="Liberation Sans" font-size="10" font-weight="bold" text-anchor="start" fill="none" stroke="#fff6a0" stroke-opacity="0.16" stroke-width="2.2" stroke-linejoin="round" textLength="12.4" lengthAdjust="spacingAndGlyphs">IIIb</text><text transform="translate(92.00 101.00) scale(0.4500)" font-family="Liberation Sans" font-size="10" font-weight="bold" text-anchor="start" fill="#1c140c" stroke="#1c140c" stroke-width="0.2" textLength="12.4" lengthAdjust="spacingAndGlyphs">IIIb</text><circle cx="96.10" cy="103.60" r="1.25" fill="#961410"/><text transform="translate(97.70 107.00) scale(0.4500)" font-family="Liberation Sans" font-size="10" font-weight="bold" text-anchor="start" fill="none" stroke="#fff6a0" stroke-opacity="0.16" stroke-width="2.2" stroke-linejoin="round" textLength="12.0" lengthAdjust="spacingAndGlyphs">IIIa</text><text transform="translate(97.70 107.00) scale(0.4500)" font-family="Liberation Sans" font-size="10" font-weight="bold" text-anchor="start" fill="#1c140c" stroke="#1c140c" stroke-width="0.2" textLength="12.0" lengthAdjust="spacingAndGlyphs">IIIa</text><circle cx="115.00" cy="113.10" r="1.25" fill="#961410"/><text transform="translate(116.20 110.70) scale(0.4500)" font-family="Liberation Sans" font-size="10" font-weight="bold" text-anchor="start" fill="none" stroke="#fff6a0" stroke-opacity="0.16" stroke-width="2.2" stroke-linejoin="round" textLength="8.1" lengthAdjust="spacingAndGlyphs">IV</text><text transform="translate(116.20 110.70) scale(0.4500)" font-family="Liberation Sans" font-size="10" font-weight="bold" text-anchor="start" fill="#1c140c" stroke="#1c140c" stroke-width="0.2" textLength="8.1" lengthAdjust="spacingAndGlyphs">IV</text><circle cx="163.00" cy="123.80" r="1.25" fill="#961410"/><text transform="translate(164.20 121.40) scale(0.4500)" font-family="Liberation Sans" font-size="10" font-weight="bold" text-anchor="start" fill="none" stroke="#fff6a0" stroke-opacity="0.16" stroke-width="2.2" stroke-linejoin="round" textLength="5.7" lengthAdjust="spacingAndGlyphs">V</text><text transform="translate(164.20 121.40) scale(0.4500)" font-family="Liberation Sans" font-size="10" font-weight="bold" text-anchor="start" fill="#1c140c" stroke="#1c140c" stroke-width="0.2" textLength="5.7" lengthAdjust="spacingAndGlyphs">V</text><circle cx="200.30" cy="135.40" r="1.25" fill="#961410"/><text transform="translate(201.90 133.00) scale(0.4500)" font-family="Liberation Sans" font-size="10" font-weight="bold" text-anchor="start" fill="none" stroke="#fff6a0" stroke-opacity="0.16" stroke-width="2.2" stroke-linejoin="round" textLength="8.1" lengthAdjust="spacingAndGlyphs">VI</text><text transform="translate(201.90 133.00) scale(0.4500)" font-family="Liberation Sans" font-size="10" font-weight="bold" text-anchor="start" fill="#1c140c" stroke="#1c140c" stroke-width="0.2" textLength="8.1" lengthAdjust="spacingAndGlyphs">VI</text><circle cx="207.80" cy="135.50" r="1.25" fill="#961410"/><text transform="translate(209.40 133.10) scale(0.4500)" font-family="Liberation Sans" font-size="10" font-weight="bold" text-anchor="start" fill="none" stroke="#fff6a0" stroke-opacity="0.16" stroke-width="2.2" stroke-linejoin="round" textLength="15.3" lengthAdjust="spacingAndGlyphs">VIIa</text><text transform="translate(209.40 133.10) scale(0.4500)" font-family="Liberation Sans" font-size="10" font-weight="bold" text-anchor="start" fill="#1c140c" stroke="#1c140c" stroke-width="0.2" textLength="15.3" lengthAdjust="spacingAndGlyphs">VIIa</text><circle cx="207.30" cy="144.60" r="1.25" fill="#961410"/><text transform="translate(208.90 142.60) scale(0.4500)" font-family="Liberation Sans" font-size="10" font-weight="bold" text-anchor="start" fill="none" stroke="#fff6a0" stroke-opacity="0.16" stroke-width="2.2" stroke-linejoin="round" textLength="15.8" lengthAdjust="spacingAndGlyphs">VIIb</text><text transform="translate(208.90 142.60) scale(0.4500)" font-family="Liberation Sans" font-size="10" font-weight="bold" text-anchor="start" fill="#1c140c" stroke="#1c140c" stroke-width="0.2" textLength="15.8" lengthAdjust="spacingAndGlyphs">VIIb</text><circle cx="228.70" cy="154.00" r="1.25" fill="#961410"/><text transform="translate(223.20 152.20) scale(0.4500)" font-family="Liberation Sans" font-size="10" font-weight="bold" text-anchor="start" fill="none" stroke="#fff6a0" stroke-opacity="0.16" stroke-width="2.2" stroke-linejoin="round" textLength="17.7" lengthAdjust="spacingAndGlyphs">VIIIa</text><text transform="translate(223.20 152.20) scale(0.4500)" font-family="Liberation Sans" font-size="10" font-weight="bold" text-anchor="start" fill="#1c140c" stroke="#1c140c" stroke-width="0.2" textLength="17.7" lengthAdjust="spacingAndGlyphs">VIIIa</text><circle cx="230.80" cy="156.80" r="1.25" fill="#961410"/><text transform="translate(232.40 155.00) scale(0.4500)" font-family="Liberation Sans" font-size="10" font-weight="bold" text-anchor="start" fill="none" stroke="#fff6a0" stroke-opacity="0.16" stroke-width="2.2" stroke-linejoin="round" textLength="17.7" lengthAdjust="spacingAndGlyphs">VIIIc</text><text transform="translate(232.40 155.00) scale(0.4500)" font-family="Liberation Sans" font-size="10" font-weight="bold" text-anchor="start" fill="#1c140c" stroke="#1c140c" stroke-width="0.2" textLength="17.7" lengthAdjust="spacingAndGlyphs">VIIIc</text><text transform="translate(240.60 160.00) scale(0.4500)" font-family="Liberation Sans" font-size="10" font-weight="bold" text-anchor="start" fill="none" stroke="#fff6a0" stroke-opacity="0.16" stroke-width="2.2" stroke-linejoin="round" textLength="18.2" lengthAdjust="spacingAndGlyphs">VIIIb</text><text transform="translate(240.60 160.00) scale(0.4500)" font-family="Liberation Sans" font-size="10" font-weight="bold" text-anchor="start" fill="#1c140c" stroke="#1c140c" stroke-width="0.2" textLength="18.2" lengthAdjust="spacingAndGlyphs">VIIIb</text><circle cx="257.10" cy="161.20" r="1.25" fill="#961410"/><text transform="translate(256.60 158.80) scale(0.4500)" font-family="Liberation Sans" font-size="10" font-weight="bold" text-anchor="start" fill="none" stroke="#fff6a0" stroke-opacity="0.16" stroke-width="2.2" stroke-linejoin="round" textLength="13.4" lengthAdjust="spacingAndGlyphs">IXb</text><text transform="translate(256.60 158.80) scale(0.4500)" font-family="Liberation Sans" font-size="10" font-weight="bold" text-anchor="start" fill="#1c140c" stroke="#1c140c" stroke-width="0.2" textLength="13.4" lengthAdjust="spacingAndGlyphs">IXb</text><circle cx="262.50" cy="156.00" r="1.25" fill="#961410"/><text transform="translate(263.70 153.60) scale(0.4500)" font-family="Liberation Sans" font-size="10" font-weight="bold" text-anchor="start" fill="none" stroke="#fff6a0" stroke-opacity="0.16" stroke-width="2.2" stroke-linejoin="round" textLength="12.9" lengthAdjust="spacingAndGlyphs">IXc</text><text transform="translate(263.70 153.60) scale(0.4500)" font-family="Liberation Sans" font-size="10" font-weight="bold" text-anchor="start" fill="#1c140c" stroke="#1c140c" stroke-width="0.2" textLength="12.9" lengthAdjust="spacingAndGlyphs">IXc</text><circle cx="262.90" cy="88.30" r="1.25" fill="#961410"/><text transform="translate(264.10 85.90) scale(0.4500)" font-family="Liberation Sans" font-size="10" font-weight="bold" text-anchor="start" fill="none" stroke="#fff6a0" stroke-opacity="0.16" stroke-width="2.2" stroke-linejoin="round" textLength="12.9" lengthAdjust="spacingAndGlyphs">IXa</text><text transform="translate(264.10 85.90) scale(0.4500)" font-family="Liberation Sans" font-size="10" font-weight="bold" text-anchor="start" fill="#1c140c" stroke="#1c140c" stroke-width="0.2" textLength="12.9" lengthAdjust="spacingAndGlyphs">IXa</text><circle cx="280.30" cy="125.00" r="1.25" fill="#961410"/><text transform="translate(281.10 122.80) scale(0.4500)" font-family="Liberation Sans" font-size="10" font-weight="bold" text-anchor="start" fill="none" stroke="#fff6a0" stroke-opacity="0.16" stroke-width="2.2" stroke-linejoin="round" textLength="5.7" lengthAdjust="spacingAndGlyphs">X</text><text transform="translate(281.10 122.80) scale(0.4500)" font-family="Liberation Sans" font-size="10" font-weight="bold" text-anchor="start" fill="#1c140c" stroke="#1c140c" stroke-width="0.2" textLength="5.7" lengthAdjust="spacingAndGlyphs">X</text><circle cx="284.40" cy="122.90" r="1.25" fill="#961410"/><text transform="translate(286.00 120.90) scale(0.4500)" font-family="Liberation Sans" font-size="10" font-weight="bold" text-anchor="start" fill="none" stroke="#fff6a0" stroke-opacity="0.16" stroke-width="2.2" stroke-linejoin="round" textLength="13.4" lengthAdjust="spacingAndGlyphs">XIb</text><text transform="translate(286.00 120.90) scale(0.4500)" font-family="Liberation Sans" font-size="10" font-weight="bold" text-anchor="start" fill="#1c140c" stroke="#1c140c" stroke-width="0.2" textLength="13.4" lengthAdjust="spacingAndGlyphs">XIb</text><circle cx="294.70" cy="128.00" r="1.25" fill="#961410"/><text transform="translate(295.90 125.60) scale(0.4500)" font-family="Liberation Sans" font-size="10" font-weight="bold" text-anchor="start" fill="none" stroke="#fff6a0" stroke-opacity="0.16" stroke-width="2.2" stroke-linejoin="round" textLength="12.9" lengthAdjust="spacingAndGlyphs">XIa</text><text transform="translate(295.90 125.60) scale(0.4500)" font-family="Liberation Sans" font-size="10" font-weight="bold" text-anchor="start" fill="#1c140c" stroke="#1c140c" stroke-width="0.2" textLength="12.9" lengthAdjust="spacingAndGlyphs">XIa</text><text x="13.3" y="144.9" font-family="Liberation Serif" font-weight="bold" font-size="11.6" fill="#000" stroke="#000" stroke-width="0.35" textLength="12.0" lengthAdjust="spacingAndGlyphs">Zn</text><circle cx="21.9" cy="158.2" r="1.15" fill="#7a0a05"/><text x="34.3" y="161.2" font-family="Liberation Serif" font-weight="bold" font-size="7.6" fill="#111" stroke="#111" stroke-width="0.28" textLength="25.0" lengthAdjust="spacingAndGlyphs">Stations</text><rect x="12.9" y="166.8" width="18.0" height="9.4" fill="#fff" stroke="#b85858" stroke-width="0.6"/><text x="34.3" y="175.0" font-family="Liberation Serif" font-weight="bold" font-size="7.6" fill="#111" stroke="#111" stroke-width="0.28" textLength="45.2" lengthAdjust="spacingAndGlyphs">Area of Study</text><text x="12.6" y="189.0" font-family="Liberation Sans" font-size="8.0" fill="#111" stroke="#111" stroke-width="0.15" textLength="13.9" lengthAdjust="spacingAndGlyphs">µg/g</text><rect x="12.7" y="193.2" width="16.9" height="19.8" fill="url(#ramp)"/><text x="34.8" y="196.0" font-family="Liberation Sans" font-size="7.8" fill="#111" stroke="#111" stroke-width="0.15" textLength="17.0" lengthAdjust="spacingAndGlyphs">26.95</text><text x="34.8" y="216.2" font-family="Liberation Sans" font-size="7.8" fill="#111" stroke="#111" stroke-width="0.15" textLength="13.2" lengthAdjust="spacingAndGlyphs">4.52</text><rect x="244.05" y="219.20" width="68.05" height="4.10" fill="#fff" stroke="#000" stroke-width="0.45"/><rect x="244.05" y="219.20" width="4.25" height="4.10" fill="#000"/><rect x="252.56" y="219.20" width="4.25" height="4.10" fill="#000"/><rect x="261.06" y="219.20" width="17.01" height="4.10" fill="#000"/><rect x="295.09" y="219.20" width="17.01" height="4.10" fill="#000"/><text transform="translate(244.65 216.90) scale(0.5250)" font-family="Liberation Serif" font-size="10" font-weight="bold" text-anchor="middle" fill="#000">0</text><text transform="translate(252.96 216.90) scale(0.5250)" font-family="Liberation Serif" font-size="10" font-weight="bold" text-anchor="middle" fill="#000">15</text><text transform="translate(261.46 216.90) scale(0.5250)" font-family="Liberation Serif" font-size="10" font-weight="bold" text-anchor="middle" fill="#000">30</text><text transform="translate(278.47 216.90) scale(0.5250)" font-family="Liberation Serif" font-size="10" font-weight="bold" text-anchor="middle" fill="#000">60</text><text transform="translate(295.49 216.90) scale(0.5250)" font-family="Liberation Serif" font-size="10" font-weight="bold" text-anchor="middle" fill="#000">90</text><text transform="translate(312.50 216.90) scale(0.5250)" font-family="Liberation Serif" font-size="10" font-weight="bold" text-anchor="middle" fill="#000">120</text><text transform="translate(313.70 223.40) scale(0.5400)" font-family="Liberation Serif" font-size="10" font-weight="bold" text-anchor="start" fill="#000">Km</text><g transform="translate(306.95 31.75) rotate(3)"><path d="M0,-11.7 L1.15,-4.2 L-1.15,-4.2 Z M0,11.9 L1.15,4.2 L-1.15,4.2 Z M-10.1,0 L-4.2,-1.15 L-4.2,1.15 Z M10.1,0 L4.2,-1.15 L4.2,1.15 Z" fill="#0a0a0a" stroke="#0a0a0a" stroke-width="0.25" stroke-linejoin="round"/><circle cx="0" cy="0" r="4.5" fill="#fff" stroke="#0a0a0a" stroke-width="0.7"/><path d="M0.2,-0.2 L0.2,-4.2 A4.0,4.0 0 0 1 4.2,-0.2 Z M-0.2,0.2 L-0.2,4.2 A4.0,4.0 0 0 1 -4.2,0.2 Z" fill="#000"/></g><text transform="translate(307.60 18.30) scale(0.5400)" font-family="Liberation Serif" font-size="10" font-weight="bold" text-anchor="middle" fill="#222">N</text><text transform="translate(306.30 49.70) scale(0.5400)" font-family="Liberation Serif" font-size="10" font-weight="bold" text-anchor="middle" fill="#222">S</text><text transform="translate(293.90 33.00) scale(0.5500)" font-family="Liberation Serif" font-size="10" font-weight="bold" text-anchor="middle" fill="#222">W</text><text transform="translate(320.00 34.40) scale(0.5300)" font-family="Liberation Serif" font-size="10" font-weight="bold" text-anchor="middle" fill="#222">E</text></g>
<text transform="translate(132.90 277.80) scale(1.000 1)" text-anchor="middle" font-family="Liberation Sans" font-size="13.1" letter-spacing="0.9" fill="#111" stroke="#111" stroke-width="0.3">(i)</text>
<text transform="translate(476.30 277.70) scale(0.950 1)" text-anchor="middle" font-family="Liberation Sans" font-size="13.1" letter-spacing="0.9" fill="#111" stroke="#111" stroke-width="0.3">(j)</text>
<text transform="translate(127.30 583.60) scale(1.000 1)" text-anchor="middle" font-family="Liberation Sans" font-size="13.1" letter-spacing="0.9" fill="#111" stroke="#111" stroke-width="0.3">(k)</text>
<text transform="translate(516.40 583.60) scale(1.000 1)" text-anchor="middle" font-family="Liberation Sans" font-size="13.1" letter-spacing="0.9" fill="#111" stroke="#111" stroke-width="0.3">(l)</text>
</svg>
</body></html>
